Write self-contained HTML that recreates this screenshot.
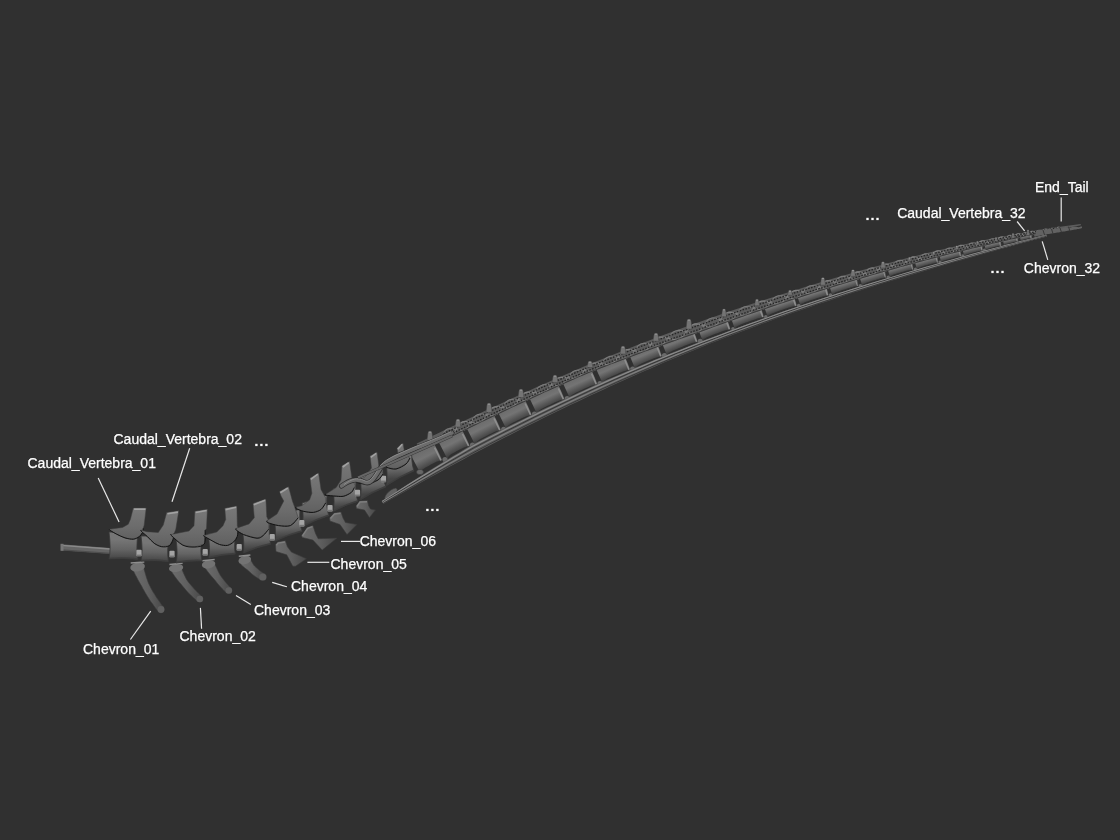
<!DOCTYPE html>
<html><head><meta charset="utf-8"><style>
html,body{margin:0;padding:0;background:#303030;}
svg{display:block}
text{font-family:"Liberation Sans",sans-serif;font-size:14px;fill:#fff;stroke:#fff;stroke-width:0.25px}
</style></head><body>
<svg width="1120" height="840" viewBox="0 0 1120 840">
<defs>
<linearGradient id="gsp" x1="0" y1="0" x2="0" y2="1"><stop offset="0" stop-color="#787878"/><stop offset="0.6" stop-color="#6c6c6c"/><stop offset="1" stop-color="#606060"/></linearGradient>
<linearGradient id="gch" x1="0" y1="0" x2="1" y2="0"><stop offset="0" stop-color="#6c6c6c"/><stop offset="0.5" stop-color="#606060"/><stop offset="1" stop-color="#484848"/></linearGradient>
<linearGradient id="gbd0" gradientUnits="userSpaceOnUse" x1="123.5" y1="539.5" x2="123.5" y2="559.2"><stop offset="0" stop-color="#767676"/><stop offset="0.5" stop-color="#646464"/><stop offset="1" stop-color="#444444"/></linearGradient><linearGradient id="gbd1" gradientUnits="userSpaceOnUse" x1="155.0" y1="543.0" x2="154.8" y2="561.4"><stop offset="0" stop-color="#767676"/><stop offset="0.5" stop-color="#646464"/><stop offset="1" stop-color="#444444"/></linearGradient><linearGradient id="gbd2" gradientUnits="userSpaceOnUse" x1="189.0" y1="545.5" x2="189.0" y2="562.0"><stop offset="0" stop-color="#767676"/><stop offset="0.5" stop-color="#646464"/><stop offset="1" stop-color="#444444"/></linearGradient><linearGradient id="gbd3" gradientUnits="userSpaceOnUse" x1="222.0" y1="540.0" x2="222.1" y2="556.0"><stop offset="0" stop-color="#767676"/><stop offset="0.5" stop-color="#646464"/><stop offset="1" stop-color="#444444"/></linearGradient><linearGradient id="gbd4" gradientUnits="userSpaceOnUse" x1="256.0" y1="531.5" x2="256.9" y2="548.7"><stop offset="0" stop-color="#767676"/><stop offset="0.5" stop-color="#646464"/><stop offset="1" stop-color="#444444"/></linearGradient><linearGradient id="gbd5" gradientUnits="userSpaceOnUse" x1="287.0" y1="520.0" x2="288.4" y2="536.4"><stop offset="0" stop-color="#767676"/><stop offset="0.5" stop-color="#646464"/><stop offset="1" stop-color="#444444"/></linearGradient><linearGradient id="gbd6" gradientUnits="userSpaceOnUse" x1="314.5" y1="506.0" x2="315.5" y2="521.4"><stop offset="0" stop-color="#767676"/><stop offset="0.5" stop-color="#646464"/><stop offset="1" stop-color="#444444"/></linearGradient><linearGradient id="gbd7" gradientUnits="userSpaceOnUse" x1="344.5" y1="492.0" x2="345.5" y2="506.4"><stop offset="0" stop-color="#767676"/><stop offset="0.5" stop-color="#646464"/><stop offset="1" stop-color="#444444"/></linearGradient><linearGradient id="gbd8" gradientUnits="userSpaceOnUse" x1="371.5" y1="477.5" x2="373.0" y2="493.5"><stop offset="0" stop-color="#767676"/><stop offset="0.5" stop-color="#646464"/><stop offset="1" stop-color="#444444"/></linearGradient><linearGradient id="gbd9" gradientUnits="userSpaceOnUse" x1="399.0" y1="461.5" x2="400.0" y2="478.4"><stop offset="0" stop-color="#767676"/><stop offset="0.5" stop-color="#646464"/><stop offset="1" stop-color="#444444"/></linearGradient>
<linearGradient id="tb1" gradientUnits="userSpaceOnUse" x1="423.0" y1="450.5" x2="430.9" y2="465.7"><stop offset="0" stop-color="#6c6c6c"/><stop offset="0.4" stop-color="#747474"/><stop offset="1" stop-color="#424242"/></linearGradient>
<linearGradient id="tb2" gradientUnits="userSpaceOnUse" x1="450.8" y1="436.7" x2="458.2" y2="451.3"><stop offset="0" stop-color="#6c6c6c"/><stop offset="0.4" stop-color="#747474"/><stop offset="1" stop-color="#424242"/></linearGradient>
<linearGradient id="tb3" gradientUnits="userSpaceOnUse" x1="480.6" y1="422.1" x2="487.6" y2="436.2"><stop offset="0" stop-color="#6c6c6c"/><stop offset="0.4" stop-color="#747474"/><stop offset="1" stop-color="#424242"/></linearGradient>
<linearGradient id="tb4" gradientUnits="userSpaceOnUse" x1="512.0" y1="407.1" x2="518.6" y2="420.8"><stop offset="0" stop-color="#6c6c6c"/><stop offset="0.4" stop-color="#747474"/><stop offset="1" stop-color="#424242"/></linearGradient>
<linearGradient id="tb5" gradientUnits="userSpaceOnUse" x1="544.3" y1="392.2" x2="550.4" y2="405.4"><stop offset="0" stop-color="#6c6c6c"/><stop offset="0.4" stop-color="#747474"/><stop offset="1" stop-color="#424242"/></linearGradient>
<linearGradient id="tb6" gradientUnits="userSpaceOnUse" x1="577.5" y1="377.3" x2="583.2" y2="390.1"><stop offset="0" stop-color="#6c6c6c"/><stop offset="0.4" stop-color="#747474"/><stop offset="1" stop-color="#424242"/></linearGradient>
<linearGradient id="tb7" gradientUnits="userSpaceOnUse" x1="610.7" y1="363.1" x2="616.0" y2="375.3"><stop offset="0" stop-color="#6c6c6c"/><stop offset="0.4" stop-color="#747474"/><stop offset="1" stop-color="#424242"/></linearGradient>
<linearGradient id="tb8" gradientUnits="userSpaceOnUse" x1="643.5" y1="349.8" x2="648.3" y2="361.4"><stop offset="0" stop-color="#6c6c6c"/><stop offset="0.4" stop-color="#747474"/><stop offset="1" stop-color="#424242"/></linearGradient>
<linearGradient id="tb9" gradientUnits="userSpaceOnUse" x1="677.7" y1="336.5" x2="682.0" y2="347.5"><stop offset="0" stop-color="#6c6c6c"/><stop offset="0.4" stop-color="#747474"/><stop offset="1" stop-color="#424242"/></linearGradient>
<linearGradient id="tb10" gradientUnits="userSpaceOnUse" x1="712.4" y1="323.6" x2="716.3" y2="334.2"><stop offset="0" stop-color="#6c6c6c"/><stop offset="0.4" stop-color="#747474"/><stop offset="1" stop-color="#424242"/></linearGradient>
<linearGradient id="tb11" gradientUnits="userSpaceOnUse" x1="745.6" y1="312.0" x2="749.2" y2="322.0"><stop offset="0" stop-color="#6c6c6c"/><stop offset="0.4" stop-color="#747474"/><stop offset="1" stop-color="#424242"/></linearGradient>
<linearGradient id="tb12" gradientUnits="userSpaceOnUse" x1="778.8" y1="300.9" x2="782.0" y2="310.4"><stop offset="0" stop-color="#6c6c6c"/><stop offset="0.4" stop-color="#747474"/><stop offset="1" stop-color="#424242"/></linearGradient>
<linearGradient id="tb13" gradientUnits="userSpaceOnUse" x1="811.5" y1="290.4" x2="814.4" y2="299.6"><stop offset="0" stop-color="#6c6c6c"/><stop offset="0.4" stop-color="#747474"/><stop offset="1" stop-color="#424242"/></linearGradient>
<linearGradient id="tb14" gradientUnits="userSpaceOnUse" x1="842.6" y1="280.9" x2="845.3" y2="289.7"><stop offset="0" stop-color="#6c6c6c"/><stop offset="0.4" stop-color="#747474"/><stop offset="1" stop-color="#424242"/></linearGradient>
<linearGradient id="tb15" gradientUnits="userSpaceOnUse" x1="871.7" y1="272.4" x2="874.2" y2="280.8"><stop offset="0" stop-color="#6c6c6c"/><stop offset="0.4" stop-color="#747474"/><stop offset="1" stop-color="#424242"/></linearGradient>
<linearGradient id="tb16" gradientUnits="userSpaceOnUse" x1="899.5" y1="264.6" x2="901.8" y2="272.6"><stop offset="0" stop-color="#6c6c6c"/><stop offset="0.4" stop-color="#747474"/><stop offset="1" stop-color="#424242"/></linearGradient>
<linearGradient id="tb17" gradientUnits="userSpaceOnUse" x1="925.6" y1="257.7" x2="927.6" y2="265.2"><stop offset="0" stop-color="#6c6c6c"/><stop offset="0.4" stop-color="#747474"/><stop offset="1" stop-color="#424242"/></linearGradient>
<linearGradient id="tb18" gradientUnits="userSpaceOnUse" x1="949.5" y1="251.7" x2="951.3" y2="258.7"><stop offset="0" stop-color="#6c6c6c"/><stop offset="0.4" stop-color="#747474"/><stop offset="1" stop-color="#424242"/></linearGradient>
<linearGradient id="tb19" gradientUnits="userSpaceOnUse" x1="972.0" y1="246.3" x2="973.6" y2="252.7"><stop offset="0" stop-color="#6c6c6c"/><stop offset="0.4" stop-color="#747474"/><stop offset="1" stop-color="#424242"/></linearGradient>
<linearGradient id="tb20" gradientUnits="userSpaceOnUse" x1="992.2" y1="241.8" x2="993.6" y2="247.5"><stop offset="0" stop-color="#6c6c6c"/><stop offset="0.4" stop-color="#747474"/><stop offset="1" stop-color="#424242"/></linearGradient>
<linearGradient id="tb21" gradientUnits="userSpaceOnUse" x1="1010.0" y1="237.9" x2="1011.2" y2="243.0"><stop offset="0" stop-color="#6c6c6c"/><stop offset="0.4" stop-color="#747474"/><stop offset="1" stop-color="#424242"/></linearGradient>
<linearGradient id="tb22" gradientUnits="userSpaceOnUse" x1="1025.5" y1="234.8" x2="1026.5" y2="239.2"><stop offset="0" stop-color="#6c6c6c"/><stop offset="0.4" stop-color="#747474"/><stop offset="1" stop-color="#424242"/></linearGradient>
<linearGradient id="tb23" gradientUnits="userSpaceOnUse" x1="1039.1" y1="232.2" x2="1039.9" y2="236.0"><stop offset="0" stop-color="#6c6c6c"/><stop offset="0.4" stop-color="#747474"/><stop offset="1" stop-color="#424242"/></linearGradient>
</defs>
<rect width="1120" height="840" fill="#303030"/>
<circle cx="445.0" cy="459.6" r="2.6" fill="#6a6a6a"/>
<circle cx="472.5" cy="445.2" r="2.6" fill="#6a6a6a"/>
<circle cx="503.7" cy="429.4" r="2.6" fill="#6a6a6a"/>
<circle cx="534.5" cy="414.2" r="2.6" fill="#6a6a6a"/>
<circle cx="567.2" cy="398.6" r="2.6" fill="#6a6a6a"/>
<circle cx="600.0" cy="383.5" r="2.6" fill="#6a6a6a"/>
<circle cx="632.7" cy="369.1" r="2.6" fill="#6a6a6a"/>
<circle cx="664.5" cy="355.6" r="2.6" fill="#6a6a6a"/>
<circle cx="700.2" cy="341.3" r="2.6" fill="#6a6a6a"/>
<circle cx="733.0" cy="328.8" r="1.8" fill="#6a6a6a"/>
<circle cx="765.8" cy="316.9" r="1.8" fill="#6a6a6a"/>
<circle cx="798.7" cy="305.5" r="1.8" fill="#6a6a6a"/>
<circle cx="830.5" cy="295.1" r="1.8" fill="#6a6a6a"/>
<circle cx="860.4" cy="285.7" r="1.8" fill="#6a6a6a"/>
<circle cx="888.3" cy="277.2" r="1.8" fill="#6a6a6a"/>
<circle cx="915.6" cy="269.3" r="1.8" fill="#6a6a6a"/>
<circle cx="940.0" cy="262.4" r="1.8" fill="#6a6a6a"/>
<circle cx="962.9" cy="256.1" r="1.8" fill="#6a6a6a"/>
<circle cx="984.5" cy="250.4" r="1.8" fill="#6a6a6a"/>
<path d="M409.8,453.0 L411.2,453.4 L412.5,453.4 L413.7,453.3 L414.8,453.0 L415.9,452.7 L417.0,452.2 L418.0,451.8 L419.0,451.3 L420.0,450.8 L421.0,450.3 L422.0,449.8 L423.0,449.3 L424.0,448.8 L425.0,448.3 L426.0,447.8 L427.0,447.3 L428.0,446.7 L429.0,446.1 L429.9,445.5 L430.8,444.8 L431.6,443.9 L432.4,442.9 L433.0,441.6 L443.0,461.1 L441.6,460.8 L440.3,460.8 L439.1,460.9 L438.0,461.2 L436.9,461.6 L435.9,462.1 L434.9,462.5 L433.9,463.1 L432.9,463.6 L431.9,464.1 L430.9,464.6 L430.0,465.1 L429.0,465.7 L428.0,466.2 L427.0,466.7 L426.0,467.3 L425.0,467.8 L424.1,468.4 L423.2,469.1 L422.3,469.8 L421.5,470.7 L420.8,471.8 L420.3,473.2Z" fill="url(#tb1)"/>
<path d="M434.6,447.7 L441.0,460.3" stroke="#8e8e8e" stroke-width="1.6"/>
<path d="M437.4,439.4 L438.8,439.7 L440.1,439.7 L441.4,439.6 L442.5,439.3 L443.6,438.9 L444.7,438.5 L445.7,438.0 L446.7,437.5 L447.8,437.0 L448.8,436.5 L449.8,436.0 L450.8,435.5 L451.9,435.0 L452.9,434.5 L453.9,434.0 L454.9,433.5 L455.9,432.9 L456.9,432.4 L457.9,431.7 L458.8,431.0 L459.7,430.2 L460.4,429.1 L461.1,427.9 L470.5,446.7 L469.1,446.4 L467.8,446.4 L466.7,446.6 L465.5,446.9 L464.5,447.3 L463.4,447.7 L462.4,448.2 L461.4,448.7 L460.3,449.2 L459.3,449.8 L458.3,450.3 L457.3,450.8 L456.3,451.3 L455.3,451.9 L454.3,452.4 L453.3,452.9 L452.3,453.5 L451.3,454.1 L450.4,454.7 L449.5,455.5 L448.6,456.4 L447.9,457.5 L447.3,458.8Z" fill="url(#tb2)"/>
<path d="M462.5,433.8 L468.6,445.9" stroke="#8e8e8e" stroke-width="1.6"/>
<path d="M465.5,425.7 L467.1,425.9 L468.5,425.9 L469.9,425.6 L471.2,425.3 L472.4,424.8 L473.6,424.3 L474.8,423.8 L476.0,423.2 L477.2,422.7 L478.4,422.1 L479.6,421.5 L480.8,420.9 L482.0,420.4 L483.1,419.8 L484.3,419.2 L485.5,418.7 L486.7,418.1 L487.8,417.4 L488.9,416.7 L490.0,416.0 L491.0,415.1 L492.0,414.0 L492.8,412.7 L501.7,430.8 L500.1,430.6 L498.7,430.7 L497.4,430.9 L496.1,431.3 L494.9,431.8 L493.7,432.3 L492.5,432.9 L491.3,433.4 L490.2,434.0 L489.0,434.6 L487.8,435.2 L486.7,435.8 L485.5,436.4 L484.3,437.0 L483.2,437.6 L482.0,438.2 L480.8,438.8 L479.7,439.5 L478.6,440.2 L477.6,441.0 L476.6,441.9 L475.7,443.0 L474.9,444.4Z" fill="url(#tb3)"/>
<path d="M494.1,418.4 L499.8,430.1" stroke="#8e8e8e" stroke-width="1.6"/>
<path d="M497.2,410.6 L498.8,410.8 L500.2,410.7 L501.5,410.5 L502.8,410.1 L504.0,409.7 L505.2,409.2 L506.4,408.7 L507.5,408.2 L508.7,407.6 L509.9,407.1 L511.0,406.5 L512.2,406.0 L513.4,405.4 L514.5,404.9 L515.7,404.3 L516.9,403.8 L518.0,403.2 L519.2,402.6 L520.3,401.9 L521.3,401.2 L522.3,400.3 L523.3,399.3 L524.1,398.0 L532.4,415.6 L530.9,415.4 L529.6,415.5 L528.2,415.7 L527.0,416.1 L525.8,416.5 L524.6,417.0 L523.4,417.5 L522.3,418.1 L521.1,418.6 L520.0,419.2 L518.8,419.8 L517.7,420.3 L516.5,420.9 L515.4,421.5 L514.2,422.0 L513.1,422.6 L512.0,423.2 L510.8,423.8 L509.8,424.5 L508.7,425.3 L507.7,426.2 L506.8,427.3 L506.0,428.6Z" fill="url(#tb4)"/>
<path d="M525.2,403.5 L530.6,414.9" stroke="#8e8e8e" stroke-width="1.6"/>
<path d="M528.5,396.0 L530.1,396.1 L531.6,396.0 L533.0,395.8 L534.4,395.4 L535.7,395.0 L537.0,394.5 L538.2,393.9 L539.5,393.4 L540.7,392.8 L542.0,392.2 L543.3,391.6 L544.5,391.1 L545.8,390.5 L547.0,389.9 L548.3,389.4 L549.5,388.8 L550.7,388.2 L552.0,387.6 L553.2,386.9 L554.3,386.1 L555.4,385.2 L556.5,384.2 L557.4,382.9 L565.2,399.9 L563.6,399.8 L562.2,399.9 L560.8,400.1 L559.5,400.5 L558.2,401.0 L556.9,401.5 L555.7,402.1 L554.4,402.6 L553.2,403.2 L551.9,403.8 L550.7,404.4 L549.5,405.0 L548.2,405.6 L547.0,406.1 L545.8,406.7 L544.5,407.3 L543.3,408.0 L542.1,408.6 L540.9,409.3 L539.8,410.1 L538.7,411.0 L537.7,412.1 L536.8,413.5Z" fill="url(#tb5)"/>
<path d="M558.4,388.3 L563.4,399.2" stroke="#8e8e8e" stroke-width="1.6"/>
<path d="M561.9,381.0 L563.4,381.1 L564.9,381.0 L566.3,380.8 L567.6,380.4 L568.9,380.0 L570.2,379.5 L571.5,379.0 L572.7,378.4 L574.0,377.9 L575.3,377.4 L576.5,376.8 L577.8,376.3 L579.0,375.7 L580.3,375.2 L581.5,374.6 L582.8,374.1 L584.0,373.5 L585.2,372.9 L586.4,372.2 L587.6,371.5 L588.8,370.7 L589.8,369.8 L590.8,368.6 L597.9,384.8 L596.4,384.7 L595.0,384.8 L593.6,385.0 L592.3,385.4 L591.0,385.8 L589.7,386.3 L588.5,386.9 L587.2,387.4 L586.0,388.0 L584.8,388.5 L583.5,389.1 L582.3,389.7 L581.0,390.2 L579.8,390.8 L578.6,391.4 L577.3,392.0 L576.1,392.6 L574.9,393.2 L573.7,393.9 L572.6,394.6 L571.5,395.5 L570.5,396.6 L569.6,397.8Z" fill="url(#tb6)"/>
<path d="M591.6,373.6 L596.2,384.1" stroke="#8e8e8e" stroke-width="1.6"/>
<path d="M595.3,366.9 L596.9,367.1 L598.4,367.0 L599.8,366.8 L601.1,366.5 L602.4,366.2 L603.7,365.7 L605.0,365.3 L606.3,364.8 L607.6,364.3 L608.8,363.8 L610.1,363.4 L611.4,362.9 L612.6,362.4 L613.9,361.9 L615.2,361.4 L616.4,360.9 L617.7,360.4 L618.9,359.9 L620.2,359.3 L621.4,358.6 L622.5,357.9 L623.6,357.0 L624.6,355.9 L630.7,370.3 L629.2,370.2 L627.7,370.3 L626.4,370.5 L625.1,370.9 L623.8,371.3 L622.5,371.8 L621.3,372.3 L620.0,372.8 L618.8,373.3 L617.6,373.9 L616.3,374.4 L615.1,375.0 L613.9,375.5 L612.6,376.0 L611.4,376.6 L610.2,377.2 L608.9,377.7 L607.7,378.3 L606.5,379.0 L605.4,379.7 L604.3,380.6 L603.2,381.6 L602.3,382.8Z" fill="url(#tb7)"/>
<path d="M624.7,359.5 L629.0,369.7" stroke="#8e8e8e" stroke-width="1.6"/>
<path d="M629.1,354.2 L630.6,354.4 L632.0,354.4 L633.3,354.2 L634.6,353.9 L635.9,353.6 L637.2,353.2 L638.4,352.8 L639.6,352.3 L640.8,351.9 L642.1,351.4 L643.3,351.0 L644.5,350.5 L645.7,350.1 L647.0,349.7 L648.2,349.2 L649.4,348.8 L650.6,348.3 L651.8,347.8 L653.0,347.2 L654.1,346.6 L655.2,345.9 L656.3,345.1 L657.3,344.0 L662.4,356.8 L661.0,356.7 L659.6,356.7 L658.3,357.0 L657.0,357.3 L655.8,357.7 L654.6,358.1 L653.4,358.6 L652.2,359.1 L651.0,359.6 L649.8,360.1 L648.6,360.6 L647.4,361.1 L646.2,361.6 L645.0,362.1 L643.8,362.6 L642.7,363.1 L641.5,363.6 L640.3,364.2 L639.2,364.8 L638.0,365.5 L637.0,366.3 L636.0,367.2 L635.0,368.4Z" fill="url(#tb8)"/>
<path d="M656.9,346.6 L660.8,356.2" stroke="#8e8e8e" stroke-width="1.6"/>
<path d="M661.8,342.4 L663.4,342.5 L665.0,342.5 L666.5,342.2 L667.9,341.9 L669.4,341.5 L670.8,341.1 L672.2,340.6 L673.6,340.1 L675.0,339.6 L676.4,339.2 L677.8,338.7 L679.2,338.2 L680.6,337.7 L682.0,337.2 L683.4,336.7 L684.8,336.2 L686.2,335.7 L687.5,335.2 L688.9,334.6 L690.2,334.0 L691.5,333.2 L692.8,332.3 L693.9,331.3 L698.1,342.4 L696.6,342.3 L695.0,342.4 L693.6,342.7 L692.1,343.1 L690.7,343.5 L689.4,344.0 L688.0,344.5 L686.6,345.1 L685.2,345.6 L683.9,346.1 L682.5,346.7 L681.1,347.2 L679.8,347.8 L678.4,348.3 L677.0,348.9 L675.7,349.4 L674.3,350.0 L673.0,350.6 L671.7,351.3 L670.4,352.0 L669.1,352.8 L667.9,353.8 L666.8,355.0Z" fill="url(#tb9)"/>
<path d="M693.1,332.7 L696.6,341.8" stroke="#8e8e8e" stroke-width="1.6"/>
<path d="M698.4,329.8 L699.9,329.9 L701.3,329.8 L702.6,329.6 L703.9,329.3 L705.2,329.0 L706.5,328.5 L707.7,328.1 L709.0,327.7 L710.2,327.2 L711.5,326.8 L712.7,326.3 L714.0,325.8 L715.2,325.4 L716.5,324.9 L717.7,324.5 L719.0,324.0 L720.2,323.5 L721.4,323.0 L722.6,322.5 L723.8,321.9 L725.0,321.2 L726.1,320.4 L727.1,319.4 L730.9,329.8 L729.5,329.7 L728.1,329.8 L726.8,330.0 L725.5,330.3 L724.2,330.7 L723.0,331.1 L721.7,331.5 L720.5,332.0 L719.2,332.4 L718.0,332.9 L716.8,333.4 L715.5,333.8 L714.3,334.3 L713.0,334.8 L711.8,335.3 L710.6,335.7 L709.4,336.2 L708.1,336.8 L706.9,337.3 L705.8,338.0 L704.6,338.7 L703.5,339.6 L702.5,340.6Z" fill="url(#tb10)"/>
<path d="M726.2,320.6 L729.4,329.3" stroke="#8e8e8e" stroke-width="1.6"/>
<path d="M731.0,318.0 L732.5,318.1 L733.9,318.0 L735.3,317.8 L736.6,317.5 L738.0,317.2 L739.3,316.8 L740.6,316.3 L741.9,315.9 L743.2,315.4 L744.5,315.0 L745.8,314.5 L747.1,314.1 L748.4,313.6 L749.7,313.2 L751.0,312.7 L752.3,312.3 L753.6,311.8 L754.9,311.3 L756.1,310.8 L757.4,310.2 L758.6,309.5 L759.8,308.7 L760.9,307.7 L764.3,317.6 L762.9,317.6 L761.4,317.7 L760.1,317.9 L758.7,318.2 L757.4,318.6 L756.1,319.0 L754.8,319.4 L753.5,319.9 L752.2,320.3 L750.9,320.8 L749.6,321.2 L748.3,321.7 L747.1,322.2 L745.8,322.6 L744.5,323.1 L743.2,323.6 L741.9,324.1 L740.6,324.6 L739.4,325.2 L738.1,325.8 L736.9,326.5 L735.8,327.4 L734.7,328.4Z" fill="url(#tb11)"/>
<path d="M759.9,308.9 L762.8,317.1" stroke="#8e8e8e" stroke-width="1.6"/>
<path d="M764.1,306.6 L765.6,306.7 L767.0,306.7 L768.4,306.5 L769.8,306.2 L771.1,305.8 L772.4,305.4 L773.7,305.0 L775.0,304.6 L776.3,304.2 L777.6,303.7 L778.9,303.3 L780.2,302.9 L781.5,302.4 L782.8,302.0 L784.1,301.6 L785.4,301.1 L786.7,300.7 L788.0,300.2 L789.2,299.7 L790.5,299.2 L791.7,298.5 L792.9,297.7 L794.0,296.8 L797.2,306.3 L795.7,306.2 L794.3,306.3 L792.9,306.5 L791.6,306.8 L790.3,307.2 L789.0,307.5 L787.7,308.0 L786.4,308.4 L785.1,308.8 L783.8,309.3 L782.5,309.7 L781.2,310.2 L779.9,310.6 L778.6,311.0 L777.3,311.5 L776.0,311.9 L774.8,312.4 L773.5,312.9 L772.2,313.4 L771.0,314.0 L769.8,314.7 L768.6,315.5 L767.5,316.5Z" fill="url(#tb12)"/>
<path d="M793.1,297.9 L795.7,305.8" stroke="#8e8e8e" stroke-width="1.6"/>
<path d="M797.2,295.8 L798.7,295.9 L800.0,295.8 L801.4,295.6 L802.7,295.4 L803.9,295.1 L805.2,294.7 L806.5,294.3 L807.7,293.9 L809.0,293.5 L810.3,293.1 L811.5,292.7 L812.8,292.3 L814.0,291.9 L815.3,291.5 L816.5,291.1 L817.8,290.7 L819.0,290.3 L820.3,289.9 L821.5,289.4 L822.7,288.9 L823.9,288.3 L825.0,287.6 L826.2,286.7 L829.0,295.8 L827.6,295.7 L826.3,295.8 L824.9,295.9 L823.6,296.2 L822.4,296.5 L821.1,296.9 L819.9,297.3 L818.6,297.7 L817.4,298.1 L816.1,298.5 L814.9,298.9 L813.6,299.3 L812.4,299.7 L811.1,300.1 L809.9,300.5 L808.6,300.9 L807.4,301.4 L806.2,301.8 L804.9,302.3 L803.7,302.9 L802.6,303.5 L801.4,304.3 L800.3,305.2Z" fill="url(#tb13)"/>
<path d="M825.2,287.7 L827.5,295.3" stroke="#8e8e8e" stroke-width="1.6"/>
<path d="M829.4,285.7 L830.7,285.8 L832.0,285.8 L833.2,285.7 L834.4,285.4 L835.6,285.1 L836.8,284.8 L837.9,284.5 L839.1,284.2 L840.3,283.8 L841.5,283.4 L842.6,283.1 L843.8,282.7 L845.0,282.4 L846.1,282.0 L847.3,281.7 L848.5,281.3 L849.6,280.9 L850.8,280.6 L851.9,280.1 L853.0,279.6 L854.2,279.1 L855.2,278.4 L856.3,277.6 L858.9,286.3 L857.6,286.2 L856.3,286.3 L855.1,286.4 L853.9,286.6 L852.7,286.9 L851.5,287.2 L850.4,287.6 L849.2,287.9 L848.0,288.3 L846.9,288.7 L845.7,289.0 L844.6,289.4 L843.4,289.7 L842.2,290.1 L841.1,290.5 L839.9,290.9 L838.8,291.2 L837.6,291.7 L836.5,292.1 L835.4,292.6 L834.3,293.2 L833.2,293.9 L832.2,294.7Z" fill="url(#tb14)"/>
<path d="M855.2,278.6 L857.4,285.9" stroke="#8e8e8e" stroke-width="1"/>
<path d="M859.5,276.7 L860.7,276.8 L861.9,276.8 L863.0,276.7 L864.1,276.5 L865.2,276.3 L866.3,276.0 L867.4,275.7 L868.5,275.4 L869.6,275.1 L870.6,274.8 L871.7,274.5 L872.8,274.2 L873.9,273.8 L875.0,273.5 L876.1,273.2 L877.1,272.9 L878.2,272.6 L879.3,272.2 L880.3,271.8 L881.4,271.4 L882.4,270.9 L883.4,270.3 L884.3,269.5 L886.8,277.9 L885.5,277.7 L884.4,277.8 L883.3,277.9 L882.1,278.1 L881.0,278.3 L880.0,278.6 L878.9,278.9 L877.8,279.2 L876.7,279.5 L875.7,279.9 L874.6,280.2 L873.5,280.5 L872.4,280.8 L871.4,281.1 L870.3,281.5 L869.2,281.8 L868.1,282.2 L867.1,282.5 L866.0,282.9 L865.0,283.4 L864.0,283.9 L863.0,284.6 L862.1,285.3Z" fill="url(#tb15)"/>
<path d="M883.3,270.5 L885.3,277.4" stroke="#8e8e8e" stroke-width="1"/>
<path d="M887.6,268.6 L888.7,268.8 L889.9,268.8 L891.0,268.7 L892.1,268.5 L893.2,268.3 L894.2,268.0 L895.3,267.8 L896.3,267.5 L897.4,267.2 L898.5,266.9 L899.5,266.6 L900.6,266.3 L901.6,266.0 L902.7,265.7 L903.7,265.4 L904.8,265.1 L905.8,264.8 L906.9,264.5 L907.9,264.2 L908.9,263.8 L909.9,263.3 L910.9,262.7 L911.8,262.0 L914.0,269.9 L912.9,269.8 L911.7,269.8 L910.6,269.9 L909.6,270.1 L908.5,270.3 L907.4,270.6 L906.4,270.8 L905.3,271.1 L904.3,271.4 L903.2,271.7 L902.2,272.0 L901.1,272.3 L900.1,272.7 L899.0,273.0 L898.0,273.3 L896.9,273.6 L895.9,273.9 L894.9,274.2 L893.8,274.6 L892.8,275.1 L891.8,275.6 L890.9,276.2 L889.9,276.9Z" fill="url(#tb16)"/>
<path d="M910.8,262.9 L912.6,269.5" stroke="#8e8e8e" stroke-width="1"/>
<path d="M914.7,261.3 L915.7,261.4 L916.8,261.4 L917.8,261.4 L918.8,261.2 L919.8,261.0 L920.7,260.8 L921.7,260.6 L922.7,260.3 L923.6,260.1 L924.6,259.8 L925.6,259.6 L926.5,259.3 L927.5,259.1 L928.5,258.8 L929.4,258.6 L930.4,258.3 L931.3,258.0 L932.3,257.8 L933.2,257.4 L934.2,257.1 L935.1,256.6 L936.0,256.1 L936.8,255.5 L938.8,262.9 L937.7,262.8 L936.7,262.7 L935.7,262.8 L934.7,263.0 L933.7,263.2 L932.8,263.4 L931.8,263.7 L930.9,263.9 L929.9,264.2 L928.9,264.5 L928.0,264.7 L927.0,265.0 L926.1,265.3 L925.1,265.5 L924.2,265.8 L923.2,266.1 L922.2,266.4 L921.3,266.7 L920.4,267.0 L919.4,267.4 L918.5,267.8 L917.7,268.4 L916.8,269.1Z" fill="url(#tb17)"/>
<path d="M935.8,256.3 L937.4,262.5" stroke="#8e8e8e" stroke-width="1"/>
<path d="M939.3,254.9 L940.3,255.0 L941.2,255.1 L942.2,255.0 L943.1,254.9 L944.0,254.7 L944.9,254.5 L945.9,254.3 L946.8,254.1 L947.7,253.9 L948.6,253.7 L949.5,253.4 L950.4,253.2 L951.3,253.0 L952.2,252.8 L953.1,252.5 L954.0,252.3 L954.9,252.1 L955.8,251.8 L956.7,251.5 L957.5,251.2 L958.4,250.8 L959.2,250.3 L960.0,249.7 L961.8,256.6 L960.8,256.4 L959.8,256.4 L958.9,256.5 L958.0,256.7 L957.1,256.8 L956.2,257.0 L955.3,257.3 L954.4,257.5 L953.5,257.7 L952.6,258.0 L951.7,258.2 L950.8,258.5 L949.9,258.7 L949.0,258.9 L948.1,259.2 L947.2,259.4 L946.3,259.7 L945.4,260.0 L944.5,260.3 L943.7,260.6 L942.8,261.1 L942.0,261.6 L941.2,262.2Z" fill="url(#tb18)"/>
<path d="M959.0,250.5 L960.4,256.2" stroke="#8e8e8e" stroke-width="1"/>
<path d="M962.5,249.2 L963.4,249.3 L964.3,249.4 L965.2,249.3 L966.0,249.2 L966.9,249.1 L967.7,248.9 L968.6,248.7 L969.4,248.5 L970.3,248.3 L971.1,248.1 L972.0,247.9 L972.8,247.7 L973.6,247.5 L974.5,247.3 L975.3,247.1 L976.2,246.9 L977.0,246.7 L977.8,246.5 L978.7,246.2 L979.5,245.9 L980.3,245.6 L981.1,245.1 L981.8,244.6 L983.3,250.8 L982.4,250.7 L981.5,250.7 L980.7,250.7 L979.8,250.9 L979.0,251.0 L978.1,251.2 L977.3,251.4 L976.4,251.6 L975.6,251.9 L974.8,252.1 L973.9,252.3 L973.1,252.5 L972.3,252.7 L971.4,252.9 L970.6,253.2 L969.8,253.4 L968.9,253.6 L968.1,253.9 L967.3,254.2 L966.5,254.5 L965.7,254.9 L964.9,255.3 L964.2,255.9Z" fill="url(#tb19)"/>
<path d="M980.7,245.3 L982.0,250.5" stroke="#8e8e8e" stroke-width="1"/>
<path d="M984.3,244.1 L985.0,244.2 L985.8,244.3 L986.5,244.3 L987.3,244.2 L988.0,244.1 L988.7,244.0 L989.4,243.8 L990.1,243.7 L990.8,243.5 L991.5,243.3 L992.2,243.2 L992.9,243.0 L993.6,242.9 L994.3,242.7 L995.0,242.5 L995.7,242.4 L996.4,242.2 L997.1,242.0 L997.8,241.8 L998.5,241.6 L999.1,241.3 L999.8,240.9 L1000.4,240.5 L1001.7,246.0 L1001.0,245.9 L1000.2,245.8 L999.5,245.9 L998.8,246.0 L998.1,246.1 L997.4,246.3 L996.7,246.4 L996.0,246.6 L995.3,246.8 L994.6,247.0 L993.9,247.1 L993.2,247.3 L992.5,247.5 L991.8,247.7 L991.1,247.8 L990.4,248.0 L989.7,248.2 L989.0,248.4 L988.3,248.7 L987.7,248.9 L987.0,249.3 L986.4,249.7 L985.7,250.2Z" fill="url(#tb20)"/>
<path d="M999.3,241.1 L1000.4,245.8" stroke="#8e8e8e" stroke-width="1"/>
<path d="M1002.8,239.9 L1003.5,240.1 L1004.2,240.1 L1004.9,240.1 L1005.5,240.1 L1006.2,240.0 L1006.8,239.9 L1007.5,239.7 L1008.1,239.6 L1008.7,239.5 L1009.4,239.3 L1010.0,239.2 L1010.6,239.1 L1011.3,238.9 L1011.9,238.8 L1012.5,238.6 L1013.1,238.5 L1013.8,238.3 L1014.4,238.2 L1015.0,238.0 L1015.6,237.8 L1016.3,237.5 L1016.8,237.2 L1017.4,236.8 L1018.5,241.7 L1017.8,241.6 L1017.2,241.6 L1016.5,241.6 L1015.9,241.7 L1015.2,241.8 L1014.6,241.9 L1014.0,242.1 L1013.3,242.2 L1012.7,242.4 L1012.1,242.5 L1011.5,242.7 L1010.8,242.9 L1010.2,243.0 L1009.6,243.2 L1009.0,243.3 L1008.3,243.5 L1007.7,243.7 L1007.1,243.8 L1006.5,244.0 L1005.9,244.3 L1005.3,244.6 L1004.7,244.9 L1004.1,245.4Z" fill="url(#tb21)"/>
<path d="M1016.3,237.5 L1017.2,241.5" stroke="#8e8e8e" stroke-width="1"/>
<path d="M1019.8,236.3 L1020.4,236.5 L1020.9,236.6 L1021.5,236.6 L1022.0,236.5 L1022.5,236.5 L1023.0,236.4 L1023.5,236.3 L1024.0,236.2 L1024.5,236.1 L1025.0,236.0 L1025.5,235.9 L1026.0,235.8 L1026.5,235.7 L1027.0,235.6 L1027.5,235.4 L1028.0,235.3 L1028.5,235.2 L1029.0,235.1 L1029.5,235.0 L1030.0,234.8 L1030.5,234.6 L1030.9,234.3 L1031.4,234.0 L1032.3,238.2 L1031.8,238.1 L1031.2,238.1 L1030.7,238.1 L1030.2,238.2 L1029.7,238.3 L1029.2,238.4 L1028.7,238.5 L1028.2,238.6 L1027.7,238.7 L1027.2,238.8 L1026.7,238.9 L1026.2,239.1 L1025.7,239.2 L1025.2,239.3 L1024.7,239.4 L1024.2,239.6 L1023.7,239.7 L1023.2,239.8 L1022.8,240.0 L1022.3,240.2 L1021.8,240.4 L1021.3,240.7 L1020.9,241.1Z" fill="url(#tb22)"/>
<path d="M1030.3,234.6 L1031.0,238.1" stroke="#8e8e8e" stroke-width="1"/>
<path d="M1033.8,233.5 L1034.3,233.6 L1034.8,233.7 L1035.3,233.7 L1035.8,233.7 L1036.2,233.6 L1036.7,233.5 L1037.2,233.5 L1037.6,233.4 L1038.1,233.3 L1038.6,233.2 L1039.0,233.1 L1039.5,233.0 L1039.9,232.9 L1040.4,232.8 L1040.9,232.7 L1041.3,232.6 L1041.8,232.5 L1042.3,232.4 L1042.7,232.3 L1043.2,232.1 L1043.6,232.0 L1044.0,231.7 L1044.5,231.5 L1045.2,235.0 L1044.7,235.0 L1044.2,234.9 L1043.8,235.0 L1043.3,235.0 L1042.8,235.1 L1042.4,235.2 L1041.9,235.3 L1041.5,235.4 L1041.0,235.5 L1040.5,235.6 L1040.1,235.7 L1039.6,235.8 L1039.2,235.9 L1038.7,236.0 L1038.2,236.2 L1037.8,236.3 L1037.3,236.4 L1036.9,236.5 L1036.4,236.7 L1036.0,236.8 L1035.5,237.0 L1035.1,237.3 L1034.7,237.6Z" fill="url(#tb23)"/>
<path d="M1043.3,232.0 L1044.0,235.0" stroke="#8e8e8e" stroke-width="1"/>
<ellipse cx="391" cy="494" rx="8" ry="3.2" transform="rotate(-42 391 494)" fill="#636363" stroke="#383838" stroke-width="0.6"/>
<ellipse cx="420" cy="472" rx="3.5" ry="2.6" fill="#666" stroke="#383838" stroke-width="0.5"/>
<path d="M383.3,503.9 L389.9,500.0 L396.6,496.2 L403.2,492.4 L409.9,488.7 L416.5,484.9 L423.2,481.2 L429.9,477.5 L436.5,473.9 L443.2,470.2 L449.9,466.6 L456.6,463.0 L463.2,459.4 L469.9,455.8 L476.6,452.3 L483.3,448.8 L490.0,445.3 L496.7,441.8 L503.4,438.3 L510.1,434.9 L516.7,431.5 L523.4,428.1 L530.1,424.8 L536.8,421.4 L543.5,418.1 L550.2,414.8 L556.9,411.6 L563.6,408.3 L570.3,405.1 L577.0,401.9 L583.7,398.8 L590.4,395.6 L597.1,392.5 L603.8,389.4 L610.4,386.3 L617.1,383.3 L623.8,380.2 L630.5,377.2 L637.2,374.3 L643.9,371.3 L650.6,368.4 L657.3,365.5 L663.9,362.6 L670.6,359.8 L677.3,357.0 L684.0,354.2 L690.7,351.4 L697.4,348.7 L704.1,346.0 L710.8,343.3 L717.5,340.7 L724.2,338.1 L730.9,335.5 L737.6,332.9 L744.3,330.4 L751.1,327.9 L757.8,325.4 L764.5,322.9 L771.2,320.5 L777.9,318.1 L784.6,315.7 L791.4,313.3 L798.1,311.0 L804.8,308.7 L811.6,306.4 L818.3,304.1 L825.0,301.9 L831.8,299.7 L838.5,297.5 L845.2,295.3 L851.9,293.1 L858.7,291.0 L865.4,288.8 L872.1,286.7 L878.9,284.6 L885.6,282.6 L892.3,280.5 L899.1,278.5 L905.8,276.4 L912.5,274.4 L919.3,272.4 L926.0,270.4 L932.7,268.5 L939.4,266.5 L946.2,264.6 L952.9,262.6 L959.6,260.7 L966.3,258.8 L973.0,256.9 L979.7,255.0 L986.5,253.1 L993.2,251.2 L999.9,249.3 L1006.6,247.5 L1013.3,245.6 L1020.0,243.8 L1026.7,241.9 L1033.4,240.1 L1040.1,238.3 L1046.8,236.5 L1046.5,234.9 L1039.7,236.6 L1033.0,238.3 L1026.2,239.9 L1019.5,241.7 L1012.8,243.4 L1006.0,245.1 L999.3,246.9 L992.5,248.6 L985.8,250.4 L979.1,252.2 L972.3,254.0 L965.6,255.8 L958.8,257.7 L952.1,259.5 L945.3,261.4 L938.6,263.3 L931.8,265.2 L925.1,267.1 L918.3,269.0 L911.6,271.0 L904.8,272.9 L898.1,274.9 L891.3,276.9 L884.6,278.9 L877.8,280.9 L871.0,283.0 L864.3,285.1 L857.5,287.1 L850.8,289.3 L844.0,291.4 L837.3,293.5 L830.5,295.7 L823.8,297.9 L817.0,300.1 L810.2,302.3 L803.5,304.6 L796.7,306.9 L790.0,309.2 L783.2,311.5 L776.5,313.8 L769.7,316.2 L763.0,318.6 L756.2,321.0 L749.5,323.4 L742.7,325.9 L736.0,328.4 L729.3,330.9 L722.5,333.5 L715.8,336.0 L709.0,338.5 L702.2,341.1 L695.5,343.6 L688.7,346.2 L681.9,348.9 L675.2,351.5 L668.4,354.2 L661.7,357.0 L654.9,359.7 L648.1,362.5 L641.4,365.3 L634.6,368.1 L627.8,370.9 L621.1,373.8 L614.3,376.7 L607.5,379.6 L600.8,382.6 L594.0,385.6 L587.3,388.7 L580.5,391.8 L573.8,394.9 L567.1,398.0 L560.3,401.2 L553.6,404.4 L546.8,407.6 L540.1,410.8 L533.3,414.1 L526.6,417.4 L519.9,420.7 L513.1,424.0 L506.4,427.4 L499.6,430.7 L492.9,434.1 L486.1,437.5 L479.4,441.0 L472.7,444.4 L466.1,448.3 L459.6,452.2 L453.1,456.1 L446.6,460.1 L440.0,464.0 L433.5,468.0 L427.0,472.1 L420.6,476.1 L414.1,480.2 L407.6,484.4 L401.2,488.5 L394.7,492.7 L388.3,496.9 L381.9,501.1Z" fill="#5c5c5c"/>
<path d="M382.1,501.6 L388.6,497.5 L395.1,493.3 L401.5,489.2 L408.0,485.1 L414.5,481.1 L421.0,477.1 L427.6,473.1 L434.1,469.1 L440.6,465.1 L447.2,461.2 L453.7,457.3 L460.3,453.5 L466.8,449.6 L473.4,445.8 L480.1,442.4 L486.8,438.9 L493.6,435.5 L500.3,432.1 L507.0,428.7 L513.8,425.4 L520.5,422.0 L527.2,418.7 L534.0,415.4 L540.7,412.1 L547.4,408.9 L554.2,405.7 L560.9,402.5 L567.6,399.3 L574.4,396.1 L581.1,393.0 L587.8,389.9 L594.6,386.8 L601.3,383.8 L608.0,380.8 L614.8,377.9 L621.6,375.0 L628.3,372.1 L635.1,369.2 L641.8,366.3 L648.6,363.5 L655.3,360.7 L662.1,358.0 L668.8,355.2 L675.6,352.5 L682.3,349.8 L689.1,347.2 L695.8,344.5 L702.6,341.9 L709.3,339.4 L716.1,336.8 L722.8,334.3 L729.6,331.7 L736.3,329.2 L743.0,326.7 L749.8,324.2 L756.5,321.8 L763.3,319.4 L770.0,317.0 L776.7,314.6 L783.5,312.2 L790.2,309.9 L797.0,307.6 L803.7,305.3 L810.5,303.1 L817.2,300.8 L824.0,298.6 L830.7,296.4 L837.5,294.2 L844.2,292.1 L851.0,289.9 L857.7,287.8 L864.5,285.7 L871.2,283.7 L878.0,281.6 L884.7,279.6 L891.5,277.5 L898.2,275.5 L905.0,273.5 L911.7,271.6 L918.5,269.6 L925.2,267.7 L932.0,265.8 L938.7,263.9 L945.5,262.0 L952.2,260.1 L959.0,258.2 L965.7,256.4 L972.4,254.5 L979.2,252.7 L985.9,250.9 L992.7,249.1 L999.4,247.3 L1006.1,245.5 L1012.9,243.8 L1019.6,242.0 L1026.3,240.3 L1033.1,238.6 L1039.8,236.9 L1046.5,235.2" stroke="#8a8a8a" stroke-width="1.3" fill="none"/>
<path d="M382.4,502.2 L388.9,498.1 L395.5,494.1 L402.0,490.1 L408.5,486.1 L415.1,482.1 L421.6,478.2 L428.2,474.3 L434.7,470.4 L441.3,466.5 L447.9,462.7 L454.5,458.9 L461.1,455.1 L467.6,451.3 L474.2,447.6 L481.0,444.1 L487.7,440.6 L494.4,437.2 L501.1,433.8 L507.8,430.4 L514.6,427.0 L521.3,423.7 L528.0,420.3 L534.7,417.0 L541.5,413.7 L548.2,410.5 L554.9,407.3 L561.6,404.0 L568.4,400.9 L575.1,397.7 L581.8,394.6 L588.5,391.4 L595.2,388.4 L602.0,385.3 L608.7,382.3 L615.4,379.3 L622.2,376.4 L628.9,373.4 L635.6,370.6 L642.4,367.7 L649.1,364.8 L655.8,362.0 L662.6,359.2 L669.3,356.5 L676.0,353.7 L682.8,351.0 L689.5,348.3 L696.2,345.7 L703.0,343.0 L709.7,340.4 L716.5,337.9 L723.2,335.3 L729.9,332.7 L736.7,330.2 L743.4,327.7 L750.1,325.2 L756.8,322.8 L763.6,320.3 L770.3,317.9 L777.1,315.5 L783.8,313.2 L790.5,310.8 L797.3,308.5 L804.0,306.2 L810.8,304.0 L817.5,301.7 L824.3,299.5 L831.0,297.3 L837.8,295.1 L844.5,292.9 L851.2,290.8 L858.0,288.7 L864.7,286.6 L871.5,284.5 L878.2,282.4 L885.0,280.4 L891.7,278.3 L898.5,276.3 L905.2,274.3 L912.0,272.3 L918.7,270.4 L925.4,268.4 L932.2,266.5 L938.9,264.6 L945.7,262.7 L952.4,260.8 L959.1,258.9 L965.9,257.0 L972.6,255.2 L979.3,253.3 L986.1,251.5 L992.8,249.7 L999.5,247.9 L1006.2,246.1 L1013.0,244.3 L1019.7,242.5 L1026.4,240.7 L1033.1,239.0 L1039.9,237.2 L1046.6,235.5" stroke="#2c2c2c" stroke-width="0.8" fill="none"/>
<path d="M382.8,502.8 L389.3,498.8 L395.9,494.9 L402.4,490.9 L409.0,487.0 L415.6,483.2 L422.2,479.3 L428.8,475.5 L435.4,471.6 L442.0,467.9 L448.6,464.1 L455.2,460.4 L461.9,456.6 L468.5,453.0 L475.1,449.3 L481.8,445.8 L488.5,442.3 L495.2,438.9 L501.9,435.4 L508.7,432.0 L515.4,428.7 L522.1,425.3 L528.8,422.0 L535.5,418.6 L542.2,415.4 L548.9,412.1 L555.6,408.8 L562.4,405.6 L569.1,402.4 L575.8,399.2 L582.5,396.1 L589.2,393.0 L595.9,389.9 L602.6,386.8 L609.3,383.8 L616.0,380.8 L622.8,377.8 L629.5,374.8 L636.2,371.9 L642.9,369.0 L649.6,366.1 L656.4,363.3 L663.1,360.5 L669.8,357.7 L676.5,354.9 L683.2,352.2 L690.0,349.5 L696.7,346.8 L703.4,344.1 L710.1,341.5 L716.8,338.9 L723.6,336.3 L730.3,333.7 L737.0,331.2 L743.7,328.7 L750.5,326.2 L757.2,323.7 L763.9,321.3 L770.6,318.9 L777.4,316.5 L784.1,314.1 L790.8,311.8 L797.6,309.4 L804.3,307.1 L811.1,304.9 L817.8,302.6 L824.5,300.4 L831.3,298.2 L838.0,296.0 L844.8,293.8 L851.5,291.6 L858.2,289.5 L865.0,287.4 L871.7,285.3 L878.5,283.2 L885.2,281.2 L891.9,279.1 L898.7,277.1 L905.4,275.1 L912.2,273.1 L918.9,271.1 L925.6,269.2 L932.4,267.2 L939.1,265.3 L945.8,263.4 L952.6,261.4 L959.3,259.5 L966.0,257.7 L972.8,255.8 L979.5,253.9 L986.2,252.1 L992.9,250.2 L999.7,248.4 L1006.4,246.6 L1013.1,244.8 L1019.8,243.0 L1026.5,241.2 L1033.2,239.4 L1039.9,237.6 L1046.7,235.9" stroke="#7e7e7e" stroke-width="1.2" fill="none"/>
<path d="M383.1,503.5 L389.7,499.6 L396.3,495.7 L402.9,491.9 L409.6,488.1 L416.2,484.3 L422.8,480.5 L429.5,476.8 L436.1,473.0 L442.8,469.3 L449.4,465.7 L456.1,462.0 L462.7,458.4 L469.4,454.8 L476.1,451.2 L482.8,447.7 L489.4,444.2 L496.1,440.7 L502.8,437.3 L509.5,433.9 L516.2,430.5 L522.9,427.1 L529.6,423.7 L536.3,420.4 L543.0,417.1 L549.7,413.8 L556.4,410.6 L563.1,407.3 L569.8,404.1 L576.5,400.9 L583.2,397.8 L589.9,394.6 L596.6,391.5 L603.3,388.4 L610.0,385.4 L616.7,382.3 L623.4,379.3 L630.1,376.4 L636.8,373.4 L643.5,370.5 L650.2,367.6 L656.9,364.7 L663.6,361.8 L670.3,359.0 L677.0,356.2 L683.7,353.4 L690.4,350.7 L697.1,348.0 L703.8,345.3 L710.6,342.7 L717.3,340.0 L724.0,337.4 L730.7,334.8 L737.4,332.3 L744.1,329.8 L750.8,327.3 L757.6,324.8 L764.3,322.3 L771.0,319.9 L777.7,317.5 L784.4,315.1 L791.2,312.8 L797.9,310.4 L804.6,308.1 L811.4,305.8 L818.1,303.6 L824.8,301.3 L831.6,299.1 L838.3,296.9 L845.0,294.7 L851.8,292.6 L858.5,290.4 L865.3,288.3 L872.0,286.2 L878.7,284.1 L885.5,282.1 L892.2,280.0 L898.9,278.0 L905.7,275.9 L912.4,273.9 L919.1,271.9 L925.9,270.0 L932.6,268.0 L939.3,266.1 L946.0,264.1 L952.8,262.2 L959.5,260.3 L966.2,258.4 L972.9,256.5 L979.6,254.6 L986.4,252.7 L993.1,250.8 L999.8,249.0 L1006.5,247.1 L1013.2,245.3 L1019.9,243.5 L1026.6,241.6 L1033.3,239.8 L1040.0,238.0 L1046.7,236.2" stroke="#303030" stroke-width="0.8" fill="none"/>
<path d="M416.7,443.5 L424.2,439.9 L431.7,436.3 L439.2,432.7 L446.7,429.1 L454.2,425.5 L461.6,421.9 L469.1,418.4 L476.6,414.9 L484.1,411.3 L491.6,407.8 L499.0,404.4 L506.5,400.9 L514.0,397.5 L521.5,394.1 L528.9,390.7 L536.4,387.3 L543.9,384.0 L551.3,380.7 L558.8,377.4 L566.3,374.2 L573.8,370.9 L581.2,367.8 L588.7,364.6 L596.2,361.5 L603.7,358.4 L611.2,355.4 L618.6,352.4 L626.1,349.4 L633.6,346.5 L641.1,343.6 L648.6,340.7 L656.0,337.8 L663.5,335.0 L671.0,332.3 L678.5,329.5 L685.9,326.8 L693.4,324.1 L700.9,321.4 L708.3,318.8 L715.8,316.2 L723.3,313.6 L730.7,311.1 L738.2,308.6 L745.6,306.1 L753.1,303.6 L760.5,301.2 L768.0,298.8 L775.4,296.4 L782.8,294.0 L790.3,291.7 L797.7,289.4 L805.1,287.1 L812.6,284.8 L820.0,282.5 L827.4,280.3 L834.9,278.1 L842.3,275.9 L849.7,273.8 L857.2,271.6 L864.6,269.5 L872.0,267.5 L879.5,265.4 L886.9,263.4 L894.3,261.4 L901.8,259.5 L909.2,257.6 L916.6,255.7 L924.1,253.8 L931.5,252.0 L938.9,250.2 L946.4,248.5 L953.8,246.8 L961.3,245.1 L968.7,243.5 L976.2,241.9 L983.6,240.3 L991.1,238.8 L998.6,237.3 L1006.0,235.9 L1013.5,234.5 L1020.9,233.2 L1028.4,231.9 L1035.9,230.6 L1043.3,229.4 L1050.8,228.2 L1058.3,227.1 L1065.7,226.0 L1073.2,225.0 L1080.7,224.0 L1080.9,225.3 L1073.5,226.7 L1066.2,228.1 L1058.8,229.5 L1051.4,230.9 L1044.0,232.4 L1036.6,233.9 L1029.2,235.5 L1021.8,237.1 L1014.4,238.7 L1007.0,240.3 L999.6,242.0 L992.3,243.7 L984.9,245.4 L977.5,247.2 L970.1,248.9 L962.7,250.7 L955.3,252.6 L947.9,254.5 L940.6,256.3 L933.2,258.3 L925.8,260.2 L918.4,262.2 L911.0,264.2 L903.6,266.2 L896.2,268.2 L888.9,270.3 L881.5,272.4 L874.1,274.5 L866.7,276.7 L859.3,278.9 L852.0,281.1 L844.6,283.3 L837.2,285.6 L829.8,287.8 L822.4,290.1 L815.0,292.5 L807.7,294.8 L800.3,297.2 L792.9,299.6 L785.5,302.0 L778.1,304.5 L770.7,306.9 L763.3,309.4 L756.0,312.0 L748.6,314.5 L741.2,317.1 L733.8,319.7 L726.4,322.3 L719.0,325.0 L711.6,327.7 L704.2,330.4 L696.8,333.1 L689.4,335.7 L681.9,338.3 L674.4,340.9 L666.9,343.6 L659.4,346.3 L651.9,349.0 L644.4,351.7 L636.9,354.5 L629.4,357.3 L621.9,360.1 L614.4,362.9 L606.9,365.8 L599.3,368.7 L591.8,371.6 L584.3,374.7 L576.9,377.9 L569.5,381.2 L562.1,384.5 L554.6,387.8 L547.2,391.2 L539.8,394.6 L532.4,398.0 L525.0,401.4 L517.5,404.9 L510.1,408.4 L502.7,411.9 L495.3,415.4 L487.9,419.0 L480.4,422.6 L473.0,426.2 L465.6,429.8 L458.0,433.0 L450.0,435.7 L442.1,438.4 L434.2,441.1 L426.2,443.8 L418.2,446.5Z" fill="#5c5c5c"/>
<path d="M445.1,437.1 L447.1,437.4 L449.0,437.3 L450.7,436.8 L452.1,435.8 L453.4,434.5 L454.4,432.8 L455.4,430.8 L456.3,428.8 L457.2,426.9 L458.3,425.1 L459.5,423.7 L460.9,422.7 L462.5,422.0 L464.3,421.7 L466.2,421.7 L468.2,421.9 L470.3,422.3 L472.4,422.6 L474.4,422.9 L476.4,423.0 L478.3,422.9 L479.9,422.4 L481.5,421.7 L482.8,420.6 L484.1,419.2 L485.2,417.6 L486.2,415.8 L487.2,414.0 L488.3,412.2 L489.4,410.6 L490.6,409.2 L491.9,408.1 L493.5,407.3 L495.1,406.8 L497.0,406.7 L498.9,406.8 L501.0,407.1 L503.0,407.4 L505.1,407.8 L507.1,408.0 L509.0,407.9 L510.7,407.6 L512.3,407.0 L513.7,406.1 L515.0,404.8 L516.2,403.3 L517.3,401.7 L518.3,399.9 L519.4,398.1 L520.5,396.5 L521.7,395.1 L523.0,393.9 L524.5,393.0 L526.1,392.5 L527.8,392.2 L529.7,392.1 L531.6,392.3 L533.6,392.5 L535.6,392.8 L537.6,393.0 L539.5,393.1 L541.3,393.0 L543.0,392.7 L544.6,392.0 L546.1,391.1 L547.4,390.0 L548.6,388.6 L549.8,387.0 L550.9,385.4 L552.0,383.8 L553.1,382.2 L554.3,380.7 L555.6,379.5 L557.0,378.5 L558.6,377.8 L560.2,377.4 L562.0,377.3 L563.9,377.3 L565.8,377.5 L567.8,377.8 L569.8,378.0 L571.7,378.2 L573.5,378.2 L575.3,378.0 L576.9,377.6 L578.5,376.9 L579.9,375.9 L581.2,374.7 L582.4,373.3 L583.5,371.7 L584.7,370.1 L585.8,368.6 L587.0,367.1 L588.3,365.8 L589.6,364.7 L591.1,363.9 L592.7,363.4 L594.4,363.1 L596.2,363.1 L598.1,363.2 L600.1,363.5 L602.1,363.9 L604.0,364.2 L606.0,364.5 L607.8,364.5 L609.5,364.3 L611.2,363.8 L612.6,363.1 L614.0,362.0 L615.3,360.8 L616.5,359.3 L617.6,357.7 L618.7,356.0 L619.8,354.5 L621.0,353.0 L622.3,351.8 L623.7,350.8 L625.2,350.1 L626.9,349.7 L628.7,349.7 L630.6,349.9 L632.5,350.3 L634.6,350.8 L636.6,351.3 L638.5,351.7 L640.4,351.9 L642.2,351.9 L643.9,351.6 L645.4,350.9 L646.8,349.9 L648.0,348.6 L649.2,347.1 L650.3,345.4 L651.4,343.7 L652.5,342.0 L653.6,340.5 L654.9,339.2 L656.3,338.2 L657.8,337.5 L659.5,337.2 L661.2,337.1 L663.1,337.2 L665.0,337.6 L666.9,338.0 L668.9,338.5 L670.9,339.0 L672.8,339.4 L674.6,339.6 L676.4,339.5 L678.0,339.3 L679.6,338.7 L681.0,337.9 L682.3,336.7 L683.6,335.4 L684.8,333.9 L685.9,332.3 L687.0,330.6 L688.2,329.0 L689.4,327.5 L690.6,326.3 L692.0,325.2 L693.5,324.4 L695.1,324.0 L696.8,323.9 L698.6,324.1 L700.5,324.5 L702.5,325.1 L704.5,325.8 L706.5,326.4 L708.4,326.8 L710.2,327.1 L712.0,327.0 L713.6,326.7 L715.0,325.9 L716.4,324.9 L717.6,323.5 L718.8,322.0 L719.9,320.3 L721.0,318.5 L722.1,316.9 L723.3,315.4 L724.6,314.1 L726.0,313.2 L727.5,312.5 L729.1,312.2 L730.9,312.3 L732.7,312.6 L734.6,313.0 L736.6,313.6 L738.5,314.3 L740.4,314.8 L742.3,315.2 L744.1,315.3 L745.7,315.1 L747.3,314.6 L748.7,313.8 L750.0,312.7 L751.3,311.3 L752.4,309.7 L753.6,308.1 L754.7,306.5 L755.9,304.9 L757.2,303.6 L758.5,302.5 L760.0,301.7 L761.5,301.2 L763.2,301.1 L764.9,301.2 L766.8,301.6 L768.7,302.1 L770.6,302.7 L772.5,303.3 L774.3,303.7 L776.1,304.0 L777.8,304.0 L779.5,303.7 L781.0,303.1 L782.3,302.2 L783.7,301.0 L784.9,299.6 L786.1,298.1 L787.3,296.5 L788.5,295.0 L789.7,293.6 L791.0,292.4 L792.4,291.5 L793.9,290.8 L795.5,290.5 L797.2,290.5 L799.0,290.8 L800.8,291.3 L802.7,291.8 L804.6,292.4 L806.5,293.0 L808.3,293.3 L810.0,293.4 L811.6,293.2 L813.1,292.7 L814.6,291.9 L815.9,290.8 L817.2,289.5 L818.4,288.0 L819.6,286.5 L820.8,285.0 L822.0,283.6 L823.4,282.4 L824.8,281.5 L826.3,280.9 L827.9,280.7 L829.6,280.8 L831.4,281.1 L833.2,281.7 L835.1,282.3 L837.0,283.0 L838.8,283.4 L840.6,283.7 L842.2,283.6 L843.8,283.2 L845.2,282.5 L846.6,281.5 L847.9,280.2 L849.1,278.7 L850.3,277.1 L851.5,275.6 L852.8,274.3 L854.1,273.2 L855.6,272.4 L857.1,272.0 L858.8,271.9 L860.5,272.2 L862.3,272.7 L864.2,273.4 L866.1,274.1 L867.9,274.7 L869.7,275.0 L871.3,275.0 L872.9,274.6 L874.3,273.9 L875.7,272.8 L876.9,271.4 L878.2,269.9 L879.4,268.4 L880.6,266.9 L881.9,265.7 L883.3,264.8 L884.8,264.2 L886.4,264.1 L888.2,264.3 L890.0,264.8 L891.8,265.4 L893.6,266.1 L895.5,266.7 L897.2,267.1 L898.9,267.1 L900.5,266.8 L901.9,266.1 L903.3,265.1 L904.6,263.8 L905.8,262.3 L907.1,260.9 L908.3,259.5 L909.6,258.3 L911.1,257.5 L912.6,257.0 L914.2,256.9 L916.0,257.3 L917.8,257.9 L919.6,258.7 L921.5,259.4 L923.3,259.9 L924.9,260.0 L926.5,259.8 L927.9,259.0 L929.3,257.9 L930.6,256.5 L931.8,255.0 L933.0,253.6 L934.4,252.3 L935.8,251.4 L937.3,250.9 L938.9,250.9 L940.6,251.3 L942.5,251.9 L944.3,252.7 L946.1,253.4 L947.8,253.8 L949.5,253.8 L951.0,253.3 L952.4,252.4 L953.7,251.2 L955.0,249.7 L956.2,248.3 L957.5,247.0 L958.9,246.0 L960.4,245.5 L962.0,245.5 L963.8,245.9 L965.6,246.6 L967.4,247.3 L969.2,248.0 L970.9,248.3 L972.5,248.2 L973.9,247.6 L975.3,246.5 L976.6,245.2 L977.9,243.8 L979.2,242.5 L980.6,241.4 L982.0,240.8 L983.7,240.8 L985.4,241.3 L987.2,242.1 L989.0,242.9 L990.8,243.4 L992.4,243.5 L993.9,242.9 L995.2,241.8 L996.5,240.4 L997.8,239.0 L999.1,237.8 L1000.6,237.1 L1002.2,237.0 L1003.9,237.5 L1005.7,238.3 L1007.5,239.1 L1009.2,239.5 L1010.8,239.3 L1012.2,238.5 L1013.5,237.2 L1014.8,235.8 L1016.2,234.6 L1017.6,233.9 L1019.2,233.9 L1021.0,234.5 L1022.8,235.4 L1024.5,236.1 L1026.1,236.0 L1027.5,235.1 L1028.8,233.7 L1030.1,232.4 L1031.6,231.5 L1033.1,231.4 L1034.9,232.0 L1036.7,232.8 L1038.4,233.3 L1039.9,233.1 L1041.3,232.1 L1042.6,230.8 L1044.0,229.7 L1045.5,229.2 L1047.1,229.4 L1048.9,230.0 L1050.6,230.6 L1052.2,230.7 L1053.7,230.1 L1055.1,229.1 L1056.4,228.0 L1057.9,227.3 L1059.4,227.1" stroke="#808080" stroke-width="1.3" fill="none"/>
<path d="M443.2,433.5 L444.3,431.7 L445.5,430.3 L446.9,429.3 L448.6,428.8 L450.4,428.6 L452.5,428.8 L454.6,429.3 L456.8,429.8 L458.9,430.2 L461.0,430.5 L462.9,430.4 L464.6,430.0 L466.0,429.1 L467.4,427.9 L468.5,426.4 L469.6,424.7 L470.6,422.9 L471.6,421.1 L472.7,419.3 L473.8,417.7 L475.0,416.4 L476.4,415.3 L478.0,414.6 L479.7,414.2 L481.6,414.1 L483.6,414.3 L485.6,414.6 L487.7,414.9 L489.7,415.2 L491.7,415.4 L493.6,415.3 L495.3,415.0 L496.9,414.3 L498.3,413.3 L499.6,412.0 L500.7,410.5 L501.8,408.7 L502.8,406.9 L503.8,405.2 L504.9,403.5 L506.1,402.1 L507.5,400.9 L509.0,400.1 L510.6,399.6 L512.4,399.4 L514.3,399.5 L516.3,399.7 L518.4,400.1 L520.4,400.4 L522.4,400.6 L524.3,400.6 L526.1,400.4 L527.7,399.8 L529.2,399.0 L530.5,397.8 L531.7,396.5 L532.9,394.9 L534.0,393.3 L535.1,391.6 L536.2,390.0 L537.3,388.5 L538.6,387.2 L540.0,386.1 L541.5,385.4 L543.1,384.9 L544.9,384.6 L546.8,384.6 L548.7,384.8 L550.7,385.1 L552.7,385.3 L554.6,385.5 L556.5,385.6 L558.3,385.5 L560.0,385.1 L561.5,384.4 L563.0,383.4 L564.3,382.3 L565.5,380.9 L566.6,379.3 L567.8,377.7 L568.9,376.1 L570.0,374.6 L571.3,373.2 L572.6,372.0 L574.1,371.1 L575.6,370.5 L577.3,370.2 L579.1,370.0 L581.0,370.1 L582.9,370.3 L584.9,370.6 L586.8,370.9 L588.7,371.1 L590.6,371.1 L592.3,370.9 L594.0,370.5 L595.5,369.8 L596.9,368.8 L598.2,367.6 L599.4,366.2 L600.6,364.6 L601.7,363.0 L602.8,361.4 L604.0,360.0 L605.3,358.7 L606.7,357.7 L608.2,356.9 L609.8,356.4 L611.5,356.3 L613.4,356.3 L615.3,356.6 L617.3,357.0 L619.3,357.4 L621.3,357.8 L623.2,358.0 L625.0,358.1 L626.7,357.9 L628.3,357.3 L629.7,356.5 L631.1,355.4 L632.3,354.0 L633.4,352.4 L634.5,350.7 L635.6,349.0 L636.8,347.4 L638.0,346.0 L639.3,344.9 L640.8,344.0 L642.4,343.5 L644.1,343.4 L645.9,343.5 L647.9,343.9 L649.9,344.4 L651.9,345.0 L653.9,345.5 L655.8,345.9 L657.7,346.0 L659.4,345.9 L661.0,345.4 L662.4,344.6 L663.8,343.5 L665.0,342.2 L666.2,340.8 L667.4,339.2 L668.5,337.6 L669.7,336.0 L670.8,334.5 L672.1,333.1 L673.4,332.0 L674.9,331.2 L676.4,330.7 L678.1,330.4 L679.9,330.4 L681.7,330.6 L683.7,331.0 L685.6,331.5 L687.6,332.1 L689.6,332.6 L691.5,333.0 L693.3,333.2 L695.0,333.1 L696.7,332.8 L698.2,332.2 L699.5,331.2 L700.8,329.9 L702.0,328.3 L703.1,326.6 L704.1,324.8 L705.3,323.1 L706.4,321.5 L707.7,320.2 L709.0,319.1 L710.5,318.4 L712.1,318.0 L713.8,318.0 L715.7,318.2 L717.6,318.7 L719.5,319.3 L721.5,319.9 L723.5,320.5 L725.4,320.9 L727.2,321.1 L728.8,321.0 L730.4,320.6 L731.9,319.8 L733.2,318.7 L734.4,317.3 L735.6,315.8 L736.7,314.1 L737.9,312.4 L739.0,310.8 L740.3,309.4 L741.6,308.2 L743.0,307.4 L744.5,306.8 L746.2,306.6 L747.9,306.7 L749.8,307.0 L751.7,307.5 L753.6,308.1 L755.5,308.7 L757.4,309.2 L759.2,309.5 L761.0,309.6 L762.6,309.3 L764.1,308.8 L765.5,307.9 L766.8,306.8 L768.1,305.4 L769.3,303.8 L770.4,302.2 L771.6,300.7 L772.8,299.2 L774.1,297.9 L775.5,296.9 L776.9,296.2 L778.5,295.8 L780.2,295.7 L782.0,295.9 L783.8,296.3 L785.7,296.8 L787.6,297.4 L789.4,298.0 L791.3,298.4 L793.0,298.6 L794.7,298.5 L796.3,298.2 L797.8,297.5 L799.2,296.5 L800.4,295.3 L801.7,293.8 L802.9,292.3 L804.0,290.7 L805.3,289.3 L806.5,287.9 L807.9,286.9 L809.3,286.1 L810.9,285.7 L812.5,285.5 L814.3,285.7 L816.1,286.0 L817.9,286.6 L819.8,287.2 L821.7,287.7 L823.5,288.1 L825.2,288.4 L826.9,288.3 L828.5,288.0 L829.9,287.3 L831.3,286.3 L832.6,285.0 L833.8,283.5 L835.0,281.9 L836.2,280.4 L837.4,279.0 L838.8,277.8 L840.2,276.9 L841.7,276.4 L843.3,276.2 L845.0,276.4 L846.8,276.8 L848.7,277.3 L850.5,278.0 L852.4,278.6 L854.2,279.0 L855.9,279.2 L857.6,279.1 L859.1,278.6 L860.5,277.8 L861.8,276.6 L863.1,275.2 L864.3,273.7 L865.5,272.1 L866.7,270.6 L868.0,269.4 L869.4,268.6 L871.0,268.1 L872.6,267.9 L874.3,268.2 L876.1,268.7 L878.0,269.3 L879.8,270.0 L881.7,270.6 L883.4,270.9 L885.1,271.0 L886.7,270.7 L888.1,270.0 L889.5,268.9 L890.8,267.6 L892.0,266.1 L893.2,264.6 L894.5,263.2 L895.8,262.0 L897.2,261.1 L898.7,260.6 L900.3,260.4 L902.0,260.6 L903.8,261.1 L905.6,261.7 L907.5,262.4 L909.3,263.0 L911.0,263.3 L912.7,263.4 L914.2,263.0 L915.7,262.3 L917.0,261.1 L918.3,259.7 L919.5,258.1 L920.7,256.6 L922.0,255.3 L923.4,254.4 L924.9,253.9 L926.5,253.8 L928.3,254.2 L930.1,254.8 L931.9,255.5 L933.8,256.2 L935.5,256.7 L937.2,256.8 L938.8,256.6 L940.2,255.8 L941.5,254.7 L942.8,253.2 L944.0,251.7 L945.3,250.3 L946.6,249.1 L948.1,248.4 L949.6,248.1 L951.3,248.2 L953.1,248.8 L954.9,249.5 L956.7,250.2 L958.5,250.7 L960.2,251.0 L961.7,250.8 L963.2,250.1 L964.5,249.0 L965.8,247.6 L967.1,246.1 L968.4,244.7 L969.7,243.7 L971.2,243.1 L972.8,243.1 L974.5,243.4 L976.3,244.0 L978.1,244.7 L979.9,245.4 L981.6,245.7 L983.2,245.6 L984.7,245.0 L986.0,243.8 L987.3,242.3 L988.5,240.9 L989.9,239.6 L991.3,239.0 L992.9,238.9 L994.6,239.3 L996.4,240.0 L998.2,240.8 L1000.0,241.3 L1001.6,241.4 L1003.1,240.8 L1004.4,239.7 L1005.7,238.2 L1007.0,236.8 L1008.4,235.8 L1009.9,235.4 L1011.5,235.5 L1013.3,236.2 L1015.1,236.9 L1016.8,237.5 L1018.5,237.6 L1019.9,237.1 L1021.3,235.8 L1022.5,234.3 L1023.9,233.1 L1025.4,232.5 L1027.0,232.8 L1028.8,233.6 L1030.6,234.4 L1032.3,234.7 L1033.8,234.2 L1035.1,233.0 L1036.4,231.6 L1037.8,230.6 L1039.3,230.2 L1041.0,230.6 L1042.8,231.4 L1044.5,231.9 L1046.1,231.9 L1047.5,231.1 L1048.8,229.9 L1050.2,228.8 L1051.7,228.2 L1053.3,228.2 L1055.0,228.7 L1056.7,229.2 L1058.3,229.4 L1059.8,229.1" stroke="#7a7a7a" stroke-width="1.1" fill="none"/>
<path d="M443.4,433.7 L448.5,431.2 L453.7,428.7 L458.9,426.2 L464.1,423.7 L469.3,421.2 L474.5,418.7 L479.7,416.3 L484.9,413.8 L490.1,411.4 L495.3,408.9 L500.4,406.5 L505.6,404.1 L510.8,401.7 L516.0,399.3 L521.2,396.9 L526.4,394.5 L531.6,392.1 L536.7,389.8 L541.9,387.5 L547.1,385.1 L552.3,382.8 L557.5,380.5 L562.7,378.3 L567.9,376.0 L573.1,373.8 L578.2,371.5 L583.4,369.3 L588.6,367.1 L593.8,365.0 L599.1,362.9 L604.3,360.8 L609.5,358.7 L614.7,356.6 L619.9,354.6 L625.1,352.5 L630.3,350.5 L635.5,348.5 L640.7,346.5 L645.9,344.5 L651.1,342.6 L656.3,340.6 L661.5,338.7 L666.8,336.8 L672.0,334.9 L677.2,333.0 L682.3,331.1 L687.5,329.3 L692.7,327.4 L697.9,325.6 L703.1,323.7 L708.3,321.9 L713.5,320.0 L718.6,318.2 L723.8,316.4 L729.0,314.6 L734.1,312.8 L739.3,311.1 L744.5,309.3 L749.7,307.6 L754.8,305.8 L760.0,304.1 L765.1,302.4 L770.3,300.7 L775.5,299.0 L780.6,297.4 L785.8,295.7 L791.0,294.1 L796.1,292.4 L801.3,290.8 L806.4,289.2 L811.6,287.6 L816.8,286.0 L821.9,284.5 L827.1,282.9 L832.2,281.3 L837.4,279.8 L842.6,278.3 L847.7,276.7 L852.9,275.2 L858.0,273.8 L863.2,272.3 L868.3,270.8 L873.5,269.4 L878.7,267.9 L883.8,266.5 L889.0,265.1 L894.1,263.7 L899.3,262.3 L904.5,260.9 L909.6,259.6 L914.8,258.3 L919.9,256.9 L925.1,255.6 L930.3,254.3 L935.4,253.1 L940.6,251.8 L945.7,250.5 L950.9,249.3 L956.1,248.1 L961.2,246.9 L966.4,245.7 L971.6,244.6 L976.8,243.4 L981.9,242.3 L987.1,241.2 L992.3,240.1 L997.4,239.0 L1002.6,238.0 L1007.8,236.9 L1013.0,235.9 L1018.1,234.9 L1023.3,233.9 L1028.5,233.0 L1033.7,232.0 L1038.8,231.1 L1044.0,230.2 L1049.2,229.3 L1054.4,228.5 L1059.5,227.6" stroke="#262626" stroke-width="1.3" stroke-dasharray="1.6 1.4" fill="none"/>
<path d="M445.0,436.9 L450.2,434.4 L455.3,431.9 L460.5,429.3 L465.7,426.8 L470.9,424.3 L476.0,421.8 L481.2,419.3 L486.4,416.9 L491.6,414.4 L496.7,411.9 L501.9,409.5 L507.1,407.1 L512.3,404.6 L517.4,402.2 L522.6,399.8 L527.8,397.4 L532.9,395.1 L538.1,392.7 L543.3,390.4 L548.5,388.0 L553.6,385.7 L558.8,383.4 L564.0,381.1 L569.1,378.8 L574.3,376.5 L579.5,374.3 L584.7,372.1 L589.9,369.9 L595.1,367.8 L600.3,365.8 L605.5,363.7 L610.8,361.7 L616.0,359.7 L621.2,357.7 L626.4,355.7 L631.6,353.7 L636.9,351.7 L642.1,349.8 L647.3,347.8 L652.5,345.9 L657.7,344.0 L662.9,342.1 L668.1,340.2 L673.3,338.3 L678.5,336.5 L683.7,334.7 L688.9,332.8 L694.1,331.0 L699.3,329.2 L704.5,327.3 L709.6,325.4 L714.8,323.6 L719.9,321.7 L725.1,319.9 L730.2,318.1 L735.4,316.2 L740.5,314.5 L745.7,312.7 L750.8,310.9 L756.0,309.2 L761.1,307.4 L766.3,305.7 L771.4,304.0 L776.6,302.3 L781.7,300.6 L786.9,298.9 L792.0,297.2 L797.2,295.6 L802.3,293.9 L807.4,292.3 L812.6,290.7 L817.7,289.1 L822.9,287.5 L828.0,285.9 L833.2,284.3 L838.3,282.8 L843.5,281.2 L848.6,279.7 L853.7,278.2 L858.9,276.6 L864.0,275.1 L869.2,273.7 L874.3,272.2 L879.5,270.7 L884.6,269.3 L889.8,267.8 L894.9,266.4 L900.1,265.0 L905.2,263.6 L910.3,262.2 L915.5,260.9 L920.6,259.5 L925.8,258.2 L930.9,256.8 L936.1,255.5 L941.2,254.2 L946.4,252.9 L951.5,251.7 L956.7,250.4 L961.8,249.2 L967.0,247.9 L972.1,246.7 L977.3,245.5 L982.4,244.4 L987.6,243.2 L992.7,242.0 L997.9,240.9 L1003.0,239.8 L1008.2,238.7 L1013.3,237.6 L1018.5,236.5 L1023.6,235.5 L1028.8,234.4 L1034.0,233.4 L1039.1,232.4 L1044.3,231.4 L1049.4,230.4 L1054.6,229.5 L1059.7,228.6" stroke="#262626" stroke-width="1.3" stroke-dasharray="1.6 1.4" fill="none"/>
<path d="M446.1,439.1 L451.2,436.5 L456.4,434.0 L461.6,431.4 L466.7,428.9 L471.9,426.4 L477.1,423.9 L482.2,421.4 L487.4,418.9 L492.6,416.4 L497.7,413.9 L502.9,411.5 L508.0,409.0 L513.2,406.6 L518.4,404.2 L523.5,401.8 L528.7,399.4 L533.8,397.0 L539.0,394.6 L544.2,392.2 L549.3,389.9 L554.5,387.6 L559.6,385.2 L564.8,382.9 L570.0,380.6 L575.1,378.4 L580.3,376.1 L585.5,373.9 L590.7,371.7 L595.9,369.7 L601.1,367.7 L606.4,365.7 L611.6,363.7 L616.8,361.7 L622.1,359.7 L627.3,357.7 L632.5,355.8 L637.7,353.9 L643.0,351.9 L648.2,350.0 L653.4,348.1 L658.6,346.2 L663.8,344.4 L669.0,342.5 L674.2,340.7 L679.4,338.8 L684.6,337.0 L689.8,335.2 L695.0,333.4 L700.2,331.6 L705.4,329.7 L710.5,327.8 L715.6,325.9 L720.8,324.1 L725.9,322.2 L731.1,320.4 L736.2,318.5 L741.3,316.7 L746.5,314.9 L751.6,313.1 L756.7,311.4 L761.9,309.6 L767.0,307.9 L772.2,306.1 L777.3,304.4 L782.4,302.7 L787.6,301.0 L792.7,299.3 L797.8,297.7 L803.0,296.0 L808.1,294.4 L813.2,292.7 L818.4,291.1 L823.5,289.5 L828.6,287.9 L833.8,286.3 L838.9,284.7 L844.1,283.2 L849.2,281.6 L854.3,280.1 L859.5,278.5 L864.6,277.0 L869.7,275.5 L874.9,274.0 L880.0,272.5 L885.1,271.1 L890.3,269.6 L895.4,268.2 L900.5,266.7 L905.7,265.3 L910.8,263.9 L915.9,262.5 L921.1,261.1 L926.2,259.8 L931.4,258.4 L936.5,257.1 L941.6,255.8 L946.8,254.4 L951.9,253.1 L957.0,251.8 L962.2,250.6 L967.3,249.3 L972.4,248.1 L977.6,246.8 L982.7,245.6 L987.9,244.4 L993.0,243.2 L998.1,242.0 L1003.3,240.8 L1008.4,239.7 L1013.6,238.5 L1018.7,237.4 L1023.8,236.3 L1029.0,235.2 L1034.1,234.1 L1039.3,233.1 L1044.4,232.0 L1049.5,231.0 L1054.7,230.0 L1059.8,229.0" stroke="#303030" stroke-width="0.8" fill="none"/>
<path d="M427.0,440.4 L427.8,433.5 Q427.8,431.0 430.0,431.0 Q432.2,431.0 432.2,433.5 L433.0,440.4Z" fill="#747474" stroke="#3a3a3a" stroke-width="0.4"/>
<path d="M428.7,432.2 L431.3,432.2" stroke="#959595" stroke-width="1"/>
<path d="M455.0,427.0 L455.8,421.5 Q455.8,419.0 458.0,419.0 Q460.2,419.0 460.2,421.5 L461.0,427.0Z" fill="#747474" stroke="#3a3a3a" stroke-width="0.4"/>
<path d="M456.7,420.2 L459.3,420.2" stroke="#959595" stroke-width="1"/>
<path d="M486.0,412.4 L486.8,405.5 Q486.8,403.0 489.0,403.0 Q491.2,403.0 491.2,405.5 L492.0,412.4Z" fill="#747474" stroke="#3a3a3a" stroke-width="0.4"/>
<path d="M487.7,404.2 L490.3,404.2" stroke="#959595" stroke-width="1"/>
<path d="M518.0,397.6 L518.8,391.5 Q518.8,389.0 521.0,389.0 Q523.2,389.0 523.2,391.5 L524.0,397.6Z" fill="#747474" stroke="#3a3a3a" stroke-width="0.4"/>
<path d="M519.7,390.2 L522.3,390.2" stroke="#959595" stroke-width="1"/>
<path d="M552.0,382.4 L552.8,377.5 Q552.8,375.0 555.0,375.0 Q557.2,375.0 557.2,377.5 L558.0,382.4Z" fill="#747474" stroke="#3a3a3a" stroke-width="0.4"/>
<path d="M553.7,376.2 L556.3,376.2" stroke="#959595" stroke-width="1"/>
<path d="M587.0,367.5 L587.8,363.5 Q587.8,361.0 590.0,361.0 Q592.2,361.0 592.2,363.5 L593.0,367.5Z" fill="#747474" stroke="#3a3a3a" stroke-width="0.4"/>
<path d="M588.7,362.2 L591.3,362.2" stroke="#959595" stroke-width="1"/>
<path d="M620.0,354.0 L620.8,348.5 Q620.8,346.0 623.0,346.0 Q625.2,346.0 625.2,348.5 L626.0,354.0Z" fill="#747474" stroke="#3a3a3a" stroke-width="0.4"/>
<path d="M621.7,347.2 L624.3,347.2" stroke="#959595" stroke-width="1"/>
<path d="M653.0,341.2 L653.8,335.5 Q653.8,333.0 656.0,333.0 Q658.2,333.0 658.2,335.5 L659.0,341.2Z" fill="#747474" stroke="#3a3a3a" stroke-width="0.4"/>
<path d="M654.7,334.2 L657.3,334.2" stroke="#959595" stroke-width="1"/>
<path d="M686.0,329.1 L686.8,321.5 Q686.8,319.0 689.0,319.0 Q691.2,319.0 691.2,321.5 L692.0,329.1Z" fill="#747474" stroke="#3a3a3a" stroke-width="0.4"/>
<path d="M687.7,320.2 L690.3,320.2" stroke="#959595" stroke-width="1"/>
<path d="M721.4,316.8 L722.2,311.2 Q722.2,308.7 724.0,308.7 Q725.8,308.7 725.8,311.2 L726.6,316.8Z" fill="#747474" stroke="#3a3a3a" stroke-width="0.4"/>
<path d="M722.9,309.9 L725.1,309.9" stroke="#959595" stroke-width="1"/>
<path d="M754.4,305.8 L755.2,301.5 Q755.2,299.0 757.0,299.0 Q758.8,299.0 758.8,301.5 L759.6,305.8Z" fill="#747474" stroke="#3a3a3a" stroke-width="0.4"/>
<path d="M755.9,300.2 L758.1,300.2" stroke="#959595" stroke-width="1"/>
<path d="M787.4,295.2 L788.2,292.5 Q788.2,290.0 790.0,290.0 Q791.8,290.0 791.8,292.5 L792.6,295.2Z" fill="#747474" stroke="#3a3a3a" stroke-width="0.4"/>
<path d="M788.9,291.2 L791.1,291.2" stroke="#959595" stroke-width="1"/>
<path d="M820.3,285.1 L821.1,279.8 Q821.1,277.3 822.9,277.3 Q824.7,277.3 824.7,279.8 L825.5,285.1Z" fill="#747474" stroke="#3a3a3a" stroke-width="0.4"/>
<path d="M821.8,278.5 L824.0,278.5" stroke="#959595" stroke-width="1"/>
<path d="M850.4,276.3 L851.2,271.9 Q851.2,269.4 853.0,269.4 Q854.8,269.4 854.8,271.9 L855.6,276.3Z" fill="#747474" stroke="#3a3a3a" stroke-width="0.4"/>
<path d="M851.9,270.6 L854.1,270.6" stroke="#959595" stroke-width="1"/>
<path d="M880.4,267.9 L881.2,264.1 Q881.2,261.6 883.0,261.6 Q884.8,261.6 884.8,264.1 L885.6,267.9Z" fill="#747474" stroke="#3a3a3a" stroke-width="0.4"/>
<path d="M881.9,262.8 L884.1,262.8" stroke="#959595" stroke-width="1"/>
<path d="M907.4,261.0 L908.2,259.5 Q908.2,257.0 909.5,257.0 Q910.8,257.0 910.8,259.5 L911.6,261.0Z" fill="#747474" stroke="#3a3a3a" stroke-width="0.4"/>
<path d="M908.7,258.2 L910.3,258.2" stroke="#959595" stroke-width="1"/>
<path d="M931.5,255.0 L932.3,254.1 Q932.3,251.6 933.6,251.6 Q934.9,251.6 934.9,254.1 L935.7,255.0Z" fill="#747474" stroke="#3a3a3a" stroke-width="0.4"/>
<path d="M932.8,252.8 L934.4,252.8" stroke="#959595" stroke-width="1"/>
<path d="M954.7,249.6 L955.5,247.9 Q955.5,245.4 956.8,245.4 Q958.1,245.4 958.1,247.9 L958.9,249.6Z" fill="#747474" stroke="#3a3a3a" stroke-width="0.4"/>
<path d="M956.0,246.6 L957.6,246.6" stroke="#959595" stroke-width="1"/>
<path d="M975.5,245.1 L976.3,243.4 Q976.3,240.9 977.3,240.9 Q978.3,240.9 978.3,243.4 L979.1,245.1Z" fill="#747474" stroke="#3a3a3a" stroke-width="0.4"/>
<path d="M976.7,242.1 L977.9,242.1" stroke="#959595" stroke-width="1"/>
<path d="M994.2,241.3 L995.0,239.5 Q995.0,237.0 996.0,237.0 Q997.0,237.0 997.0,239.5 L997.8,241.3Z" fill="#747474" stroke="#3a3a3a" stroke-width="0.4"/>
<path d="M995.4,238.2 L996.6,238.2" stroke="#959595" stroke-width="1"/>
<path d="M1011.2,238.0 L1012.0,235.5 Q1012.0,233.0 1013.0,233.0 Q1014.0,233.0 1014.0,235.5 L1014.8,238.0Z" fill="#747474" stroke="#3a3a3a" stroke-width="0.4"/>
<path d="M1012.4,234.2 L1013.6,234.2" stroke="#959595" stroke-width="1"/>
<path d="M1026.2,235.4 L1027.0,232.0 Q1027.0,229.5 1028.0,229.5 Q1029.0,229.5 1029.0,232.0 L1029.8,235.4Z" fill="#747474" stroke="#3a3a3a" stroke-width="0.4"/>
<path d="M1027.4,230.7 L1028.6,230.7" stroke="#959595" stroke-width="1"/>
<path d="M1036.0,230.9 L1037.2,230.5 L1038.4,230.1 L1039.5,229.9 L1040.7,229.7 L1041.9,229.7 L1043.1,229.8 L1044.3,230.0 L1045.4,229.7 L1046.6,229.4 L1047.8,229.1 L1049.0,228.9 L1050.2,228.9 L1051.3,229.0 L1052.5,229.2 L1053.7,229.0 L1054.9,228.6 L1056.1,228.3 L1057.2,228.2 L1058.4,228.1 L1059.6,228.2 L1060.8,228.3 L1061.9,228.3 L1063.1,227.9 L1064.3,227.6 L1065.5,227.4 L1066.7,227.4 L1067.8,227.4 L1069.0,227.6 L1070.2,227.7 L1071.4,227.3 L1072.6,227.0 L1073.7,226.8 L1074.9,226.7 L1076.1,226.8 L1077.3,226.9 L1078.5,227.2 L1079.6,226.9 L1080.8,226.6 L1082.0,226.5 L1082.0,228.0 L1080.8,228.4 L1079.6,228.7 L1078.5,228.9 L1077.3,229.1 L1076.1,229.4 L1074.9,229.6 L1073.7,229.8 L1072.6,230.0 L1071.4,230.2 L1070.2,230.4 L1069.0,230.6 L1067.8,230.8 L1066.7,231.0 L1065.5,231.2 L1064.3,231.4 L1063.1,231.6 L1061.9,231.8 L1060.8,232.0 L1059.6,232.2 L1058.4,232.4 L1057.2,232.6 L1056.1,232.8 L1054.9,233.0 L1053.7,233.2 L1052.5,233.4 L1051.3,233.6 L1050.2,233.8 L1049.0,234.0 L1047.8,234.1 L1046.6,234.3 L1045.4,234.5 L1044.3,234.7 L1043.1,234.9 L1041.9,235.1 L1040.7,235.3 L1039.5,235.4 L1038.4,235.6 L1037.2,235.8 L1036.0,236.0Z" fill="#626262"/>
<path d="M1043.0,230.1 L1044.6,235.1" stroke="#333" stroke-width="0.9"/>
<path d="M1051.5,229.0 L1053.1,234.0" stroke="#333" stroke-width="0.9"/>
<path d="M1060.0,227.8 L1061.6,232.8" stroke="#333" stroke-width="0.9"/>
<path d="M1068.5,226.7 L1070.1,231.7" stroke="#333" stroke-width="0.9"/>
<path d="M61.0,544.3 L110.0,548.0 L110.0,553.8 L61.0,550.2Z" fill="#666666"/>
<path d="M61,549.8 L110,553.4" stroke="#4e4e4e" stroke-width="1.2"/>
<path d="M61,545.4 L110,549" stroke="#8a8a8a" stroke-width="1.3"/>
<rect x="60.5" y="543.8" width="3" height="7" fill="#777"/>
<circle cx="161.0" cy="609.5" r="3.7" fill="#3a3a3a"/>
<path d="M133.1,569.8 L134.2,572.4 L135.4,574.9 L136.7,577.3 L137.9,579.7 L139.2,581.9 L140.4,584.1 L141.7,586.2 L142.8,588.4 L144.0,590.5 L145.1,592.5 L146.3,594.5 L147.5,596.5 L148.8,598.4 L150.0,600.4 L151.3,602.3 L152.7,604.1 L154.0,606.0 L155.4,607.9 L156.9,609.7 L158.3,611.6 L163.7,607.4 L162.3,605.6 L161.0,603.7 L159.7,601.9 L158.4,600.1 L157.1,598.3 L155.9,596.5 L154.8,594.6 L153.6,592.8 L152.5,590.9 L151.4,589.0 L150.4,587.0 L149.4,585.0 L148.4,582.9 L147.6,580.7 L146.8,578.5 L146.1,576.2 L145.4,573.8 L144.7,571.4 L144.0,568.8 L143.3,566.2Z" fill="url(#gch)" stroke="#3a3a3a" stroke-width="0.6"/>
<circle cx="161.0" cy="609.5" r="3.4" fill="#606060"/>
<ellipse cx="137.5" cy="567.0" rx="7.4" ry="4.4" transform="rotate(-10 137.5 566.5)" fill="#737373"/>
<path d="M130.7,563.1 L144.3,561.9" stroke="#8e8e8e" stroke-width="1.5"/>
<circle cx="199.8" cy="599.0" r="3.6" fill="#3a3a3a"/>
<path d="M171.4,571.3 L172.7,573.4 L174.0,575.3 L175.4,577.2 L176.7,579.0 L178.1,580.7 L179.5,582.4 L180.9,583.9 L182.1,585.5 L183.4,587.1 L184.7,588.6 L185.9,590.1 L187.2,591.5 L188.5,592.9 L189.8,594.2 L191.1,595.5 L192.4,596.7 L193.7,597.9 L195.0,599.1 L196.3,600.3 L197.6,601.4 L202.0,596.6 L200.8,595.4 L199.6,594.2 L198.3,593.1 L197.1,591.9 L195.9,590.6 L194.7,589.4 L193.5,588.1 L192.4,586.8 L191.2,585.5 L190.1,584.1 L188.9,582.7 L187.8,581.2 L186.7,579.7 L185.8,578.0 L185.0,576.2 L184.1,574.4 L183.3,572.6 L182.5,570.7 L181.8,568.7 L181.0,566.7Z" fill="url(#gch)" stroke="#3a3a3a" stroke-width="0.6"/>
<circle cx="199.8" cy="599.0" r="3.3" fill="#606060"/>
<ellipse cx="176" cy="568.0" rx="7.2" ry="4.0" transform="rotate(-8 176 567.5)" fill="#737373"/>
<path d="M169.4,564.5 L182.6,563.3" stroke="#8e8e8e" stroke-width="1.5"/>
<circle cx="228.8" cy="590.5" r="3.6" fill="#3a3a3a"/>
<path d="M204.8,567.6 L206.2,569.5 L207.6,571.4 L209.0,573.2 L210.4,574.9 L211.7,576.5 L213.1,578.1 L214.4,579.5 L215.6,581.0 L216.7,582.4 L217.8,583.8 L218.8,585.0 L219.9,586.2 L220.9,587.3 L221.8,588.3 L222.7,589.3 L223.6,590.2 L224.4,591.0 L225.2,591.7 L225.9,592.3 L226.6,592.9 L231.0,588.1 L230.5,587.5 L229.9,586.9 L229.2,586.2 L228.5,585.5 L227.7,584.6 L226.9,583.7 L226.1,582.7 L225.2,581.7 L224.2,580.5 L223.3,579.3 L222.3,578.0 L221.3,576.7 L220.3,575.3 L219.4,573.6 L218.5,571.9 L217.7,570.2 L216.8,568.3 L215.9,566.4 L215.0,564.5 L214.2,562.4Z" fill="url(#gch)" stroke="#3a3a3a" stroke-width="0.6"/>
<circle cx="228.8" cy="590.5" r="3.3" fill="#606060"/>
<ellipse cx="208.5" cy="564.3" rx="6.800000000000001" ry="4.0" transform="rotate(-10 208.5 563.8)" fill="#737373"/>
<path d="M202.3,560.8 L214.7,559.6" stroke="#8e8e8e" stroke-width="1.5"/>
<circle cx="262.8" cy="577.0" r="3.9" fill="#3a3a3a"/>
<path d="M240.7,564.4 L241.7,565.3 L242.7,566.2 L243.8,567.1 L244.8,568.0 L245.9,568.8 L247.0,569.6 L248.1,570.4 L249.0,571.3 L249.9,572.2 L250.9,573.0 L251.8,573.9 L252.8,574.7 L253.8,575.4 L254.8,576.2 L255.8,576.9 L256.8,577.6 L257.9,578.3 L258.9,578.9 L260.0,579.5 L261.0,580.1 L264.6,573.9 L263.7,573.3 L262.8,572.7 L261.9,572.2 L261.0,571.5 L260.2,570.9 L259.3,570.2 L258.5,569.6 L257.7,568.8 L256.8,568.1 L256.0,567.4 L255.2,566.6 L254.4,565.8 L253.7,565.0 L253.1,564.0 L252.5,563.0 L251.9,561.9 L251.3,560.9 L250.8,559.8 L250.3,558.7 L249.7,557.6Z" fill="url(#gch)" stroke="#3a3a3a" stroke-width="0.6"/>
<circle cx="262.8" cy="577.0" r="3.6" fill="#606060"/>
<ellipse cx="244.6" cy="560.0" rx="6.4" ry="4.2" transform="rotate(-15 244.6 559.5)" fill="#737373"/>
<path d="M238.8,556.3 L250.4,555.1" stroke="#8e8e8e" stroke-width="1.5"/>
<path d="M275.4,544.8 L278.0,542.1 L285.4,540.8 L287.4,546.8 L291.4,552.1 L306.5,558.8 L295.5,566.2 L292.8,566.2 L286.7,554.8 L276.0,551.5Z" fill="url(#gch)" stroke="#3a3a3a" stroke-width="0.6" stroke-linejoin="round"/>
<path d="M276.4,545.3 L278.0,543.1 L284.9,542.0" stroke="#7e7e7e" stroke-width="1.5" fill="none"/>
<path d="M301.5,535.4 L307.5,527.4 L312.9,525.4 L315.5,533.4 L318.2,538.8 L337.0,538.1 L322.2,550.1 L312.9,540.1 L302.2,537.4Z" fill="url(#gch)" stroke="#3a3a3a" stroke-width="0.6" stroke-linejoin="round"/>
<path d="M302.5,535.9 L307.5,528.4 L312.4,526.6" stroke="#7e7e7e" stroke-width="1.5" fill="none"/>
<path d="M329.5,518.0 L334.5,513.0 L341.0,512.0 L343.0,518.0 L345.5,522.5 L357.0,524.5 L347.0,534.6 L340.0,524.5 L330.0,521.0Z" fill="url(#gch)" stroke="#3a3a3a" stroke-width="0.6" stroke-linejoin="round"/>
<path d="M330.5,518.5 L334.5,514.0 L340.5,513.2" stroke="#7e7e7e" stroke-width="1.5" fill="none"/>
<path d="M356.0,506.0 L360.0,501.0 L367.5,500.5 L368.5,505.5 L370.5,509.0 L375.5,510.0 L369.5,517.6 L364.5,510.0 L356.5,508.5Z" fill="url(#gch)" stroke="#3a3a3a" stroke-width="0.6" stroke-linejoin="round"/>
<path d="M357.0,506.5 L360.0,502.0 L367.0,501.7" stroke="#7e7e7e" stroke-width="1.5" fill="none"/>
<path d="M109.0,532.0 L138.0,533.0 Q135.8,549.2 138.0,559.5 Q123.5,557.8 109.0,559.0 Q111.2,548.5 109.0,532.0Z" fill="url(#gbd0)" stroke="#383838" stroke-width="0.8"/>
<path d="M137.5,558.9 Q123.5,557.1 109.5,558.4" stroke="#3e3e3e" stroke-width="1.4" fill="none"/>
<path d="M141.0,536.0 L169.0,536.0 Q166.6,551.9 168.5,561.7 Q154.8,559.9 141.0,561.0 Q143.2,551.5 141.0,536.0Z" fill="url(#gbd1)" stroke="#383838" stroke-width="0.8"/>
<path d="M168.0,561.1 Q154.8,559.2 141.5,560.4" stroke="#3e3e3e" stroke-width="1.4" fill="none"/>
<path d="M176.0,539.0 L202.0,538.0 Q199.8,552.5 202.0,561.0 Q189.0,560.5 176.0,563.0 Q178.2,554.0 176.0,539.0Z" fill="url(#gbd2)" stroke="#383838" stroke-width="0.8"/>
<path d="M201.5,560.4 Q189.0,559.9 176.5,562.4" stroke="#3e3e3e" stroke-width="1.4" fill="none"/>
<path d="M208.0,534.0 L236.0,532.0 Q233.5,546.0 235.4,554.1 Q222.1,554.5 208.8,558.0 Q210.6,549.0 208.0,534.0Z" fill="url(#gbd3)" stroke="#383838" stroke-width="0.8"/>
<path d="M234.9,553.5 Q222.1,553.9 209.3,557.4" stroke="#3e3e3e" stroke-width="1.4" fill="none"/>
<path d="M242.0,528.0 L270.0,521.0 Q268.2,535.6 270.7,544.3 Q256.9,547.2 243.2,553.1 Q244.8,543.5 242.0,528.0Z" fill="url(#gbd4)" stroke="#383838" stroke-width="0.8"/>
<path d="M270.2,543.7 Q256.9,546.6 243.7,552.5" stroke="#3e3e3e" stroke-width="1.4" fill="none"/>
<path d="M274.0,517.0 L300.0,509.0 Q298.9,523.2 302.2,531.5 Q288.4,534.9 274.7,541.3 Q276.6,532.1 274.0,517.0Z" fill="url(#gbd5)" stroke="#383838" stroke-width="0.8"/>
<path d="M301.7,530.9 Q288.4,534.3 275.2,540.7" stroke="#3e3e3e" stroke-width="1.4" fill="none"/>
<path d="M302.0,503.0 L327.0,495.0 Q325.8,508.4 329.0,515.7 Q315.5,519.9 302.0,527.0 Q304.2,518.0 302.0,503.0Z" fill="url(#gbd6)" stroke="#383838" stroke-width="0.8"/>
<path d="M328.5,515.1 Q315.5,519.2 302.5,526.4" stroke="#3e3e3e" stroke-width="1.4" fill="none"/>
<path d="M333.0,489.0 L356.0,481.0 Q354.8,494.2 358.0,501.4 Q345.5,504.9 333.0,511.4 Q335.2,503.2 333.0,489.0Z" fill="url(#gbd7)" stroke="#383838" stroke-width="0.8"/>
<path d="M357.5,500.8 Q345.5,504.3 333.5,510.8" stroke="#3e3e3e" stroke-width="1.4" fill="none"/>
<path d="M360.0,476.0 L383.0,465.0 Q382.3,479.0 386.0,487.0 Q373.0,492.0 360.0,500.0 Q362.2,491.0 360.0,476.0Z" fill="url(#gbd8)" stroke="#383838" stroke-width="0.8"/>
<path d="M385.5,486.4 Q373.0,491.4 360.5,499.4" stroke="#3e3e3e" stroke-width="1.4" fill="none"/>
<path d="M386.0,462.0 L412.0,447.0 Q410.8,462.0 414.0,471.0 Q400.0,476.9 386.0,485.7 Q388.2,476.9 386.0,462.0Z" fill="url(#gbd9)" stroke="#383838" stroke-width="0.8"/>
<path d="M413.5,470.4 Q400.0,476.2 386.5,485.1" stroke="#3e3e3e" stroke-width="1.4" fill="none"/>
<rect x="136.4" y="549.8" width="5.2" height="6.4" rx="1" fill="#a4a4a4"/>
<rect x="136.4" y="554.6" width="5.2" height="1.6" fill="#777"/>
<rect x="169.4" y="550.8" width="5.2" height="6.4" rx="1" fill="#a4a4a4"/>
<rect x="169.4" y="555.6" width="5.2" height="1.6" fill="#777"/>
<rect x="202.6" y="549.0" width="5.2" height="6.4" rx="1" fill="#a4a4a4"/>
<rect x="202.6" y="553.8" width="5.2" height="1.6" fill="#777"/>
<rect x="236.6" y="544.0" width="5.2" height="6.4" rx="1" fill="#a4a4a4"/>
<rect x="236.6" y="548.8" width="5.2" height="1.6" fill="#777"/>
<rect x="269.6" y="534.0" width="5.2" height="6.4" rx="1" fill="#a4a4a4"/>
<rect x="269.6" y="538.8" width="5.2" height="1.6" fill="#777"/>
<rect x="299.2" y="520.0" width="5.2" height="6.4" rx="1" fill="#a4a4a4"/>
<rect x="299.2" y="524.8" width="5.2" height="1.6" fill="#777"/>
<rect x="327.4" y="505.0" width="5.2" height="6.4" rx="1" fill="#a4a4a4"/>
<rect x="327.4" y="509.8" width="5.2" height="1.6" fill="#777"/>
<rect x="354.9" y="489.8" width="5.2" height="6.4" rx="1" fill="#a4a4a4"/>
<rect x="354.9" y="494.6" width="5.2" height="1.6" fill="#777"/>
<rect x="380.9" y="475.8" width="5.2" height="6.4" rx="1" fill="#a4a4a4"/>
<rect x="380.9" y="480.6" width="5.2" height="1.6" fill="#777"/>
<path d="M133.3,507.9 L146.2,507.9 L144.2,525.0 L143.3,528.3 L142.5,532.5 L139.2,536.7 L133.3,539.2 L125.0,537.9 L116.7,534.2 L110.8,530.8 L109.2,529.2 L122.5,527.5 L128.3,524.2 L130.5,519.0Z" fill="url(#gsp)" stroke="#3c3c3c" stroke-width="0.5" stroke-linejoin="round"/>
<path d="M109.2,529.2 C109.5,529.5 109.5,530.0 110.8,530.8 C112.0,531.6 114.3,533.0 116.7,534.2 C119.1,535.4 122.2,537.1 125.0,537.9 C127.8,538.7 130.9,539.4 133.3,539.2 C135.7,539.0 137.7,537.8 139.2,536.7 C140.7,535.6 141.8,533.9 142.5,532.5 C143.2,531.1 143.2,529.0 143.3,528.3" stroke="#141414" stroke-width="1" fill="none"/>
<path d="M134.1,509.2 L145.4,509.2" stroke="#a2a2a2" stroke-width="1.6"/>
<path d="M166.7,512.5 L178.8,510.8 L175.8,529.2 L174.2,533.3 L172.9,540.0 L169.2,545.8 L161.7,546.7 L154.2,543.3 L147.5,536.7 L141.7,531.7 L140.8,530.0 L146.7,531.7 L158.3,532.5 L163.3,525.0Z" fill="url(#gsp)" stroke="#3c3c3c" stroke-width="0.5" stroke-linejoin="round"/>
<path d="M140.8,530.0 C141.0,530.3 140.6,530.6 141.7,531.7 C142.8,532.8 145.4,534.8 147.5,536.7 C149.6,538.6 151.8,541.6 154.2,543.3 C156.6,545.0 159.2,546.3 161.7,546.7 C164.2,547.1 167.3,546.9 169.2,545.8 C171.1,544.7 172.1,542.1 172.9,540.0 C173.7,537.9 174.0,534.4 174.2,533.3" stroke="#141414" stroke-width="1" fill="none"/>
<path d="M167.5,513.8 L177.9,512.1" stroke="#a2a2a2" stroke-width="1.6"/>
<path d="M194.9,511.2 L207.4,509.2 L206.5,528.4 L205.2,530.2 L204.3,544.0 L194.8,547.0 L182.9,545.2 L171.5,535.7 L171.2,534.5 L189.0,531.0 L194.0,525.7Z" fill="url(#gsp)" stroke="#3c3c3c" stroke-width="0.5" stroke-linejoin="round"/>
<path d="M171.2,534.5 C171.2,534.7 169.6,533.9 171.5,535.7 C173.4,537.5 179.0,543.3 182.9,545.2 C186.8,547.1 191.2,547.2 194.8,547.0 C198.4,546.8 202.6,546.8 204.3,544.0 C206.0,541.2 205.0,532.5 205.2,530.2" stroke="#141414" stroke-width="1" fill="none"/>
<path d="M195.7,512.5 L206.6,510.5" stroke="#a2a2a2" stroke-width="1.6"/>
<path d="M224.8,508.3 L236.9,506.0 L237.3,525.7 L238.2,528.4 L237.3,536.4 L233.8,541.8 L227.5,545.4 L219.5,544.5 L212.3,540.9 L204.3,536.4 L203.8,535.5 L216.8,532.0 L223.0,525.7 L225.7,519.5Z" fill="url(#gsp)" stroke="#3c3c3c" stroke-width="0.5" stroke-linejoin="round"/>
<path d="M203.8,535.5 C203.9,535.6 202.9,535.5 204.3,536.4 C205.7,537.3 209.8,539.5 212.3,540.9 C214.8,542.2 217.0,543.8 219.5,544.5 C222.0,545.2 225.1,545.9 227.5,545.4 C229.9,544.9 232.1,543.3 233.8,541.8 C235.4,540.3 236.6,538.6 237.3,536.4 C238.0,534.2 238.0,529.7 238.2,528.4" stroke="#141414" stroke-width="1" fill="none"/>
<path d="M225.6,509.6 L236.1,507.3" stroke="#a2a2a2" stroke-width="1.6"/>
<path d="M253.0,503.4 L265.9,498.9 L266.8,516.8 L268.6,520.4 L268.6,529.3 L263.2,535.5 L257.0,538.2 L243.6,534.6 L236.4,530.2 L236.0,528.4 L249.0,523.9 L254.3,517.7Z" fill="url(#gsp)" stroke="#3c3c3c" stroke-width="0.5" stroke-linejoin="round"/>
<path d="M236.0,528.4 C236.1,528.7 235.1,529.2 236.4,530.2 C237.7,531.2 240.2,533.3 243.6,534.6 C247.0,535.9 253.7,538.1 257.0,538.2 C260.3,538.4 261.3,537.0 263.2,535.5 C265.1,534.0 267.7,530.3 268.6,529.3" stroke="#141414" stroke-width="1" fill="none"/>
<path d="M253.8,504.7 L265.1,500.2" stroke="#a2a2a2" stroke-width="1.6"/>
<path d="M279.5,491.4 L288.6,486.7 L292.4,501.0 L295.0,508.0 L298.2,517.8 L290.4,525.6 L278.6,525.6 L267.8,522.7 L267.0,520.7 L277.0,514.0 L283.8,501.0 L281.0,496.0Z" fill="url(#gsp)" stroke="#3c3c3c" stroke-width="0.5" stroke-linejoin="round"/>
<path d="M267.0,520.7 C267.1,521.0 265.9,521.9 267.8,522.7 C269.7,523.5 274.8,525.1 278.6,525.6 C282.4,526.1 287.1,526.9 290.4,525.6 C293.7,524.3 296.9,519.1 298.2,517.8" stroke="#141414" stroke-width="1" fill="none"/>
<path d="M280.3,492.7 L287.8,488.0" stroke="#a2a2a2" stroke-width="1.6"/>
<path d="M310.0,478.0 L318.6,472.9 L321.0,489.5 L325.7,498.0 L325.7,502.9 L321.0,509.5 L313.3,512.4 L303.8,511.4 L296.2,508.6 L296.2,507.0 L301.9,505.7 L309.5,500.0 L311.9,493.3Z" fill="url(#gsp)" stroke="#3c3c3c" stroke-width="0.5" stroke-linejoin="round"/>
<path d="M296.2,507.0 C296.2,507.3 294.9,507.9 296.2,508.6 C297.5,509.3 300.9,510.8 303.8,511.4 C306.7,512.0 310.4,512.7 313.3,512.4 C316.2,512.1 318.9,511.1 321.0,509.5 C323.1,507.9 324.9,504.0 325.7,502.9" stroke="#141414" stroke-width="1" fill="none"/>
<path d="M310.8,479.3 L317.8,474.2" stroke="#a2a2a2" stroke-width="1.6"/>
<path d="M341.9,465.7 L349.5,461.4 L351.9,478.0 L355.2,485.7 L354.3,487.6 L351.4,492.4 L343.8,496.2 L336.2,496.2 L325.7,495.2 L325.7,494.3 L336.2,487.6 L341.0,480.0Z" fill="url(#gsp)" stroke="#3c3c3c" stroke-width="0.5" stroke-linejoin="round"/>
<path d="M325.7,494.3 C325.7,494.4 323.9,494.9 325.7,495.2 C327.4,495.5 333.2,496.0 336.2,496.2 C339.2,496.4 341.3,496.8 343.8,496.2 C346.3,495.6 349.6,493.8 351.4,492.4 C353.1,491.0 353.8,488.4 354.3,487.6" stroke="#141414" stroke-width="1" fill="none"/>
<path d="M342.7,467.0 L348.7,462.7" stroke="#a2a2a2" stroke-width="1.6"/>
<path d="M370.0,456.0 L377.0,452.0 L379.0,467.0 L383.0,474.0 L378.0,480.0 L367.0,484.0 L357.0,482.5 L356.0,481.0 L365.0,477.0 L371.5,468.0Z" fill="url(#gsp)" stroke="#3c3c3c" stroke-width="0.5" stroke-linejoin="round"/>
<path d="M356.0,481.0 C356.2,481.2 355.2,482.0 357.0,482.5 C358.8,483.0 363.5,484.4 367.0,484.0 C370.5,483.6 375.3,481.7 378.0,480.0 C380.7,478.3 382.2,475.0 383.0,474.0" stroke="#141414" stroke-width="1" fill="none"/>
<path d="M370.8,457.3 L376.2,453.3" stroke="#a2a2a2" stroke-width="1.6"/>
<path d="M397.0,448.0 L403.0,443.0 L405.0,455.0 L410.0,458.0 L406.0,464.0 L396.0,469.0 L387.0,467.5 L386.0,466.0 L392.0,463.0 L398.5,457.0Z" fill="url(#gsp)" stroke="#3c3c3c" stroke-width="0.5" stroke-linejoin="round"/>
<path d="M386.0,466.0 C386.2,466.2 385.3,467.0 387.0,467.5 C388.7,468.0 392.8,469.6 396.0,469.0 C399.2,468.4 403.7,465.8 406.0,464.0 C408.3,462.2 409.3,459.0 410.0,458.0" stroke="#141414" stroke-width="1" fill="none"/>
<path d="M397.8,449.3 L402.2,444.3" stroke="#a2a2a2" stroke-width="1.6"/>
<path d="M341.5,486 C350,480 356,478 364,482 C372,486 376,474 382,466 C388,459 400,455 414,449 C426,444 438,440 452,433" stroke="#2e2e2e" stroke-width="5.2" fill="none" stroke-linecap="round"/>
<path d="M341.5,486 C350,480 356,478 364,482 C372,486 376,474 382,466 C388,459 400,455 414,449 C426,444 438,440 452,433" stroke="#6c6c6c" stroke-width="3.6" fill="none" stroke-linecap="round"/>
<path d="M344,484.5 C352,479 357,477 364,480.5 C371,484 375,473 381,465 C387,458 399,454 413,447.6 C425,442.6 437,438.6 451,431.6" stroke="#8a8a8a" stroke-width="1" fill="none"/>
<path d="M358,477.5 L452,436" stroke="#2e2e2e" stroke-width="3" fill="none"/>
<path d="M358,477.5 L452,436" stroke="#666" stroke-width="2" fill="none"/>
<g style="will-change:transform" opacity="0.999">
<text x="27.5" y="468">Caudal_Vertebra_01</text>
<line x1="98.2" y1="478" x2="119.1" y2="522.1" stroke="#e8e8e8" stroke-width="1.2"/>
<text x="113.5" y="444">Caudal_Vertebra_02</text>
<line x1="189.7" y1="448.3" x2="172" y2="501.7" stroke="#e8e8e8" stroke-width="1.2"/>
<text x="83" y="653.8">Chevron_01</text>
<line x1="130.4" y1="639.5" x2="150.7" y2="611.1" stroke="#e8e8e8" stroke-width="1.2"/>
<text x="179.5" y="641">Chevron_02</text>
<line x1="201.6" y1="628.8" x2="200.4" y2="607.9" stroke="#e8e8e8" stroke-width="1.2"/>
<text x="254" y="614.6">Chevron_03</text>
<line x1="236" y1="595.5" x2="250.8" y2="604.6" stroke="#e8e8e8" stroke-width="1.2"/>
<text x="291" y="590.8">Chevron_04</text>
<line x1="272.2" y1="582.4" x2="286.9" y2="586.8" stroke="#e8e8e8" stroke-width="1.2"/>
<text x="330.5" y="568.7">Chevron_05</text>
<line x1="307.4" y1="562.3" x2="329.3" y2="562.3" stroke="#e8e8e8" stroke-width="1.2"/>
<text x="359.7" y="545.7">Chevron_06</text>
<line x1="341" y1="541.4" x2="360.4" y2="541.4" stroke="#e8e8e8" stroke-width="1.2"/>
<text x="897.2" y="217.6">Caudal_Vertebra_32</text>
<line x1="1017.1" y1="221.5" x2="1024.6" y2="230.8" stroke="#e8e8e8" stroke-width="1.2"/>
<text x="1035" y="192">End_Tail</text>
<line x1="1061.2" y1="197.4" x2="1061.2" y2="221.5" stroke="#e8e8e8" stroke-width="1.2"/>
<text x="1023.8" y="272.6">Chevron_32</text>
<line x1="1042.2" y1="241.3" x2="1047.8" y2="259.8" stroke="#e8e8e8" stroke-width="1.2"/>
<rect x="255.2" y="443.8" width="2.4" height="2.3" fill="#fff"/>
<rect x="260.2" y="443.8" width="2.4" height="2.3" fill="#fff"/>
<rect x="265.2" y="443.8" width="2.4" height="2.3" fill="#fff"/>
<rect x="866.3" y="217.8" width="2.4" height="2.3" fill="#fff"/>
<rect x="871.3" y="217.8" width="2.4" height="2.3" fill="#fff"/>
<rect x="876.3" y="217.8" width="2.4" height="2.3" fill="#fff"/>
<rect x="991.3" y="270.8" width="2.4" height="2.3" fill="#fff"/>
<rect x="996.3" y="270.8" width="2.4" height="2.3" fill="#fff"/>
<rect x="1001.3" y="270.8" width="2.4" height="2.3" fill="#fff"/>
<rect x="426.2" y="508.8" width="2.4" height="2.3" fill="#fff"/>
<rect x="431.2" y="508.8" width="2.4" height="2.3" fill="#fff"/>
<rect x="436.2" y="508.8" width="2.4" height="2.3" fill="#fff"/>
</g>
</svg></body></html>
